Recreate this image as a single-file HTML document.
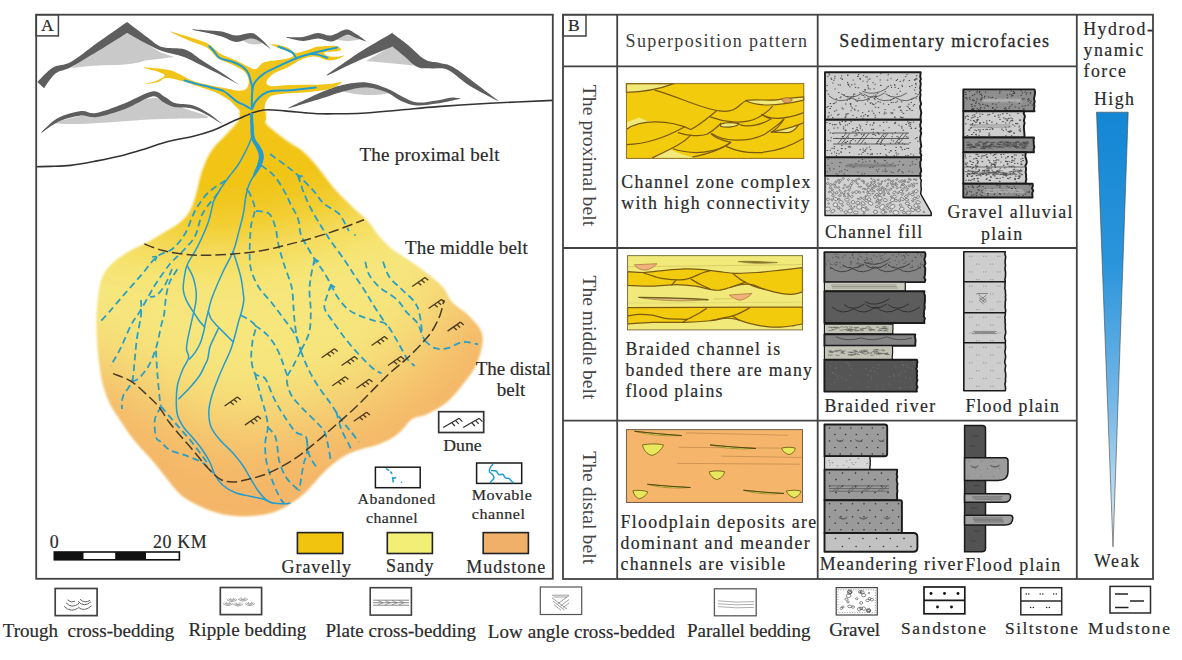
<!DOCTYPE html>
<html lang="en"><head><meta charset="utf-8"><title>Fluvial fan depositional model</title>
<style>html,body{margin:0;padding:0;background:#fff}svg{display:block}text{font-family:"Liberation Serif","Times New Roman",serif;white-space:pre}</style></head><body>
<svg width="1182" height="660" viewBox="0 0 1182 660">
<rect width="1182" height="660" fill="#fff"/>
<clipPath id="clipA"><rect x="36.2" y="14.7" width="516.6" height="564.1"/></clipPath>
<g clip-path="url(#clipA)">
<path d="M71,68L126.8,31L145.4,43L160.3,52.2L174,57Q160,58.5 145.4,60.6Q130.5,65.5 113.8,64.9Q95,65 71,68Z" fill="#c9c9c9"/>
<path d="M37.3,82.0C39.9,79.6 47.4,70.8 53.0,67.5C58.6,64.2 63.5,66.1 70.8,62.0C78.1,57.9 87.9,49.5 97.0,43.0C106.1,36.5 120.6,26.5 125.6,23.0C130.6,19.5 126.6,22.0 127.1,22.0C127.6,22.0 125.5,20.7 128.8,23.2C132.1,25.7 141.5,33.0 147.0,37.0C152.5,41.0 155.7,44.9 162.0,47.0C168.3,49.1 178.2,47.2 185.0,49.5C191.8,51.8 196.8,57.1 203.0,61.0C209.2,64.9 215.9,69.0 222.0,73.0C228.1,77.0 236.6,83.0 239.5,85.0L236.0,83.0C232.5,81.2 221.4,75.2 215.0,72.0C208.6,68.8 203.1,66.1 197.7,63.5C192.3,60.9 188.4,58.6 182.5,56.5C176.6,54.4 167.9,53.1 162.0,51.0C156.1,48.9 152.6,46.9 147.0,44.0C141.4,41.1 131.9,35.7 128.6,33.8C125.3,31.9 127.6,32.8 127.1,32.8C126.6,32.8 130.2,30.9 125.4,33.9C120.6,36.9 107.1,45.4 98.0,51.0C88.9,56.6 77.9,63.5 70.8,67.3C63.7,71.1 60.0,70.1 55.5,73.6C51.0,77.1 46.0,85.8 44.1,88.3Z" fill="#5e5e5e"/>
<path d="M56.0,123.0C56.0,121.7 71.0,117.8 80.0,116.0C89.0,114.2 98.0,115.0 110.0,112.0C122.0,109.0 140.3,98.8 152.0,98.0C163.7,97.2 170.6,103.8 180.0,107.0C189.4,110.2 208.5,115.4 208.5,117.3C208.5,119.2 189.8,118.1 180.0,118.5C170.2,118.9 161.7,118.9 150.0,119.5C138.3,120.1 121.7,121.5 110.0,122.3C98.3,123.0 89.0,123.9 80.0,124.0C71.0,124.1 56.0,124.3 56.0,123.0Z" fill="#c9c9c9"/>
<path d="M41.6,132.0C44.3,129.7 51.4,121.5 58.0,118.0C64.6,114.5 74.7,111.8 81.0,111.0C87.3,110.2 89.0,114.2 96.0,113.0C103.0,111.8 113.7,107.6 123.0,104.0C132.3,100.4 145.0,92.6 152.0,91.4C159.0,90.2 161.2,95.1 165.0,97.0C168.8,98.9 170.4,101.6 175.0,103.0C179.6,104.4 187.1,103.6 192.6,105.3C198.1,107.0 202.9,109.8 208.0,113.0C213.1,116.2 220.5,122.5 223.0,124.4L222.0,124.0C219.5,122.5 212.0,117.6 207.0,115.0C202.0,112.4 197.5,109.8 192.0,108.5C186.5,107.2 178.8,108.1 174.0,107.0C169.2,105.9 166.7,103.8 163.0,102.0C159.3,100.2 158.3,95.3 152.0,96.5C145.7,97.7 134.2,105.6 125.0,109.0C115.8,112.4 104.3,115.9 97.0,117.0C89.7,118.1 87.2,114.8 81.0,115.5C74.8,116.2 66.5,118.2 60.0,121.0C53.5,123.8 45.0,130.6 42.0,132.5Z" fill="#5e5e5e"/>
<path d="M41.6,132.3L58,118.5" stroke="#5e5e5e" stroke-width="1" fill="none"/>
<path d="M240.0,38.0C240.3,36.7 248.3,35.2 252.0,36.0C255.7,36.8 262.3,41.7 262.0,43.0C261.7,44.3 253.7,44.8 250.0,44.0C246.3,43.2 239.7,39.3 240.0,38.0Z" fill="#c9c9c9"/>
<path d="M192.0,29.2C195.0,29.4 204.8,30.1 210.0,30.5C215.2,30.9 218.7,30.9 223.0,31.7C227.3,32.5 231.0,35.3 235.7,35.5C240.4,35.7 246.9,32.6 251.0,33.0C255.1,33.4 256.6,35.2 260.0,38.0C263.4,40.8 269.4,47.6 271.3,49.5L270.0,48.5C268.2,47.2 262.3,42.7 259.0,41.0C255.7,39.3 253.8,38.3 250.0,38.5C246.2,38.7 240.5,42.2 236.0,42.0C231.5,41.8 227.3,38.4 223.0,37.0C218.7,35.6 215.0,34.7 210.0,33.5C205.0,32.3 195.8,30.6 193.0,30.0Z" fill="#5e5e5e"/>
<path d="M333.0,38.0C333.0,37.0 341.5,34.8 346.0,35.0C350.5,35.2 360.0,38.0 360.0,39.0C360.0,40.0 350.5,41.2 346.0,41.0C341.5,40.8 333.0,39.0 333.0,38.0Z" fill="#c9c9c9"/>
<path d="M286.0,37.0C288.8,37.0 297.7,37.7 303.0,37.0C308.3,36.3 313.3,33.2 318.0,33.0C322.7,32.8 326.3,36.1 331.0,35.5C335.7,34.9 341.8,29.8 346.0,29.5C350.2,29.2 352.5,32.0 356.0,34.0C359.5,36.0 365.2,40.3 367.0,41.6L366.0,41.4C364.2,40.8 358.3,38.6 355.0,37.5C351.7,36.4 349.8,34.3 346.0,35.0C342.2,35.7 336.7,40.9 332.0,41.5C327.3,42.1 322.8,38.6 318.0,38.5C313.2,38.4 308.2,41.1 303.0,41.0C297.8,40.9 289.7,38.3 287.0,37.8Z" fill="#5e5e5e"/>
<path d="M366,61L392,46L418,66Q395,63.5 366,61Z" fill="#c9c9c9"/>
<path d="M326.5,75.0C332.1,71.2 349.4,58.9 360.0,52.0C370.6,45.1 385.1,37.1 390.4,33.9C395.7,30.7 391.4,32.8 392.0,32.8C392.6,32.8 391.0,32.2 393.7,34.2C396.4,36.2 402.8,40.8 408.0,45.0C413.2,49.2 419.7,56.6 425.0,59.6C430.3,62.6 435.3,61.8 440.0,63.0C444.7,64.2 447.2,63.7 453.0,67.0C458.8,70.3 467.4,77.3 475.0,83.0C482.6,88.7 494.7,98.0 498.6,101.0L497.0,100.5C492.5,98.1 478.2,91.1 470.0,86.0C461.8,80.9 454.3,72.9 448.0,70.0C441.7,67.1 437.1,69.0 432.0,68.5C426.9,68.0 422.1,69.1 417.4,67.0C412.7,64.9 408.0,59.2 404.0,56.0C400.0,52.8 395.6,49.2 393.6,47.6C391.6,46.0 392.6,46.4 392.0,46.4C391.4,46.4 395.6,45.1 390.3,47.4C385.0,49.7 370.5,55.3 360.0,60.0C349.5,64.7 332.9,72.9 327.5,75.5Z" fill="#5e5e5e"/>
<path d="M343.0,91.0C343.0,89.8 358.5,87.2 366.0,87.5C373.5,87.8 388.0,91.8 388.0,93.0C388.0,94.2 373.5,95.3 366.0,95.0C358.5,94.7 343.0,92.2 343.0,91.0Z" fill="#c9c9c9"/>
<path d="M288.0,108.0C293.8,105.2 313.5,95.4 323.0,91.5C332.5,87.6 337.7,86.0 345.0,84.5C352.3,83.0 359.6,81.8 366.6,82.5C373.6,83.2 380.9,86.1 387.0,88.5C393.1,90.9 397.9,94.7 403.0,97.0C408.1,99.3 411.7,101.9 417.4,102.5C423.1,103.1 431.2,101.3 437.0,100.5C442.8,99.7 448.1,97.8 452.0,97.5C455.9,97.2 459.1,98.3 460.5,98.5L460.0,99.0C458.3,99.3 453.8,100.2 450.0,101.0C446.2,101.8 442.5,102.8 437.0,103.5C431.5,104.2 423.0,105.9 417.0,105.5C411.0,105.1 406.0,103.2 401.0,101.0C396.0,98.8 392.7,94.8 387.0,92.6C381.3,90.4 373.6,87.9 366.6,87.6C359.6,87.3 352.3,89.3 345.0,91.0C337.7,92.7 332.3,95.1 323.0,98.0C313.7,100.9 294.7,106.6 289.0,108.3Z" fill="#5e5e5e"/>
<path d="M242.1,121.2C238.2,119.6 241.1,113.6 239.8,110.9C238.5,108.3 235.9,106.7 234.1,104.9C232.4,103.1 231.7,101.9 228.8,99.9C226.0,98.0 221.2,95.0 216.4,92.8C211.5,90.7 204.0,88.5 198.6,86.6C193.2,84.8 187.7,82.6 182.6,81.3C177.5,79.9 170.6,77.9 166.6,78.1C162.7,78.2 161.3,81.2 157.8,82.2C154.2,83.1 144.7,84.1 144.4,83.9C144.2,83.7 152.9,82.1 156.0,80.9C159.1,79.7 162.8,77.6 164.0,76.5C165.1,75.3 164.7,74.8 163.1,73.8C161.5,72.9 157.3,71.6 154.2,70.6C151.1,69.6 143.0,67.9 143.6,67.6C144.1,67.3 153.5,68.1 157.8,68.5C162.0,68.9 166.5,69.3 170.2,70.3C173.9,71.3 177.2,73.0 180.9,74.7C184.5,76.4 187.9,79.1 193.3,80.9C198.7,82.8 208.9,85.0 214.6,86.3C220.3,87.5 224.8,88.2 228.8,88.9C232.8,89.6 236.6,90.8 239.5,90.7C242.3,90.6 245.1,90.0 246.6,88.4C248.0,86.7 249.0,83.0 248.7,80.4C248.4,77.7 247.4,74.4 244.8,71.9C242.2,69.4 236.6,66.9 232.4,64.8C228.1,62.6 222.1,61.2 218.2,58.5C214.2,55.8 211.5,50.5 207.5,47.9C203.5,45.3 197.5,44.0 193.3,42.2C189.0,40.4 184.5,38.6 180.9,36.9C177.2,35.2 169.6,31.7 170.2,31.5C170.8,31.3 179.9,34.3 184.4,35.6C189.0,37.0 194.6,38.7 198.6,40.1C202.6,41.5 205.9,42.4 209.3,44.5C212.7,46.6 216.0,51.0 219.9,53.4C223.9,55.8 229.9,57.6 234.1,59.6C238.4,61.6 243.2,64.3 246.6,65.8C250.0,67.4 252.9,69.7 255.5,69.2C258.0,68.7 260.6,64.2 262.6,63.0C264.5,61.7 264.8,61.9 267.9,61.4C271.0,60.8 278.3,60.3 282.1,59.6C285.9,58.9 290.1,57.8 291.9,56.9C293.6,56.1 293.7,55.1 293.1,54.3C292.5,53.4 290.6,52.6 288.3,51.6C286.0,50.6 281.4,49.3 278.5,48.1C275.7,46.8 270.3,44.4 270.6,44.0C270.8,43.6 277.3,44.7 280.3,45.4C283.3,46.1 286.6,47.2 289.2,48.4C291.8,49.6 292.9,52.8 296.3,52.9C299.7,52.9 307.1,49.9 310.5,49.0C313.9,48.0 314.8,47.1 317.6,46.6C320.5,46.2 325.2,46.0 328.3,45.9C331.4,45.9 335.1,45.7 337.2,46.3C339.2,46.8 341.1,48.5 341.1,49.3C341.1,50.1 339.8,50.8 337.2,51.3C334.5,51.7 326.4,51.6 324.7,52.3C323.0,53.0 324.8,54.8 326.5,55.5C328.2,56.2 332.5,56.8 335.4,56.8C338.3,56.8 344.6,55.0 344.6,55.5C344.6,56.0 338.3,59.0 335.4,59.8C332.5,60.5 329.2,60.6 326.5,60.1C323.8,59.7 321.1,57.5 318.5,56.9C316.0,56.4 313.5,56.2 310.5,56.8C307.5,57.3 303.6,58.6 299.9,60.3C296.2,62.0 291.4,65.4 287.4,67.4C283.4,69.4 278.1,71.0 275.0,72.8C271.9,74.5 269.6,76.9 268.2,78.6C266.9,80.3 266.0,82.4 266.5,83.6C267.0,84.8 268.9,85.9 271.4,86.3C273.9,86.6 277.5,85.8 282.1,85.5C286.6,85.3 294.2,84.8 299.9,84.7C305.5,84.5 312.5,84.8 317.6,84.7C322.7,84.5 327.9,84.2 331.8,83.8C335.7,83.4 342.0,81.5 342.0,82.2C342.0,82.9 335.7,86.8 331.8,88.2C327.9,89.6 322.7,90.3 317.6,91.0C312.5,91.8 305.5,92.4 299.9,92.8C294.2,93.3 286.6,93.4 282.1,93.9C277.5,94.4 273.9,94.7 271.4,95.8C268.9,97.0 267.5,99.0 266.5,100.8C265.4,102.6 264.9,105.0 264.7,107.0C264.4,109.0 264.9,111.0 264.9,113.3C264.8,115.5 268.0,120.0 264.3,121.2C260.7,122.5 246.1,122.9 242.1,121.2Z" fill="#f1c419"/>
<path d="M251.9,114.1C251.9,111.5 251.8,102.6 251.9,98.2C252.0,93.7 252.4,90.2 252.3,87.5C252.1,84.8 251.2,83.1 251.0,82.2" stroke="#1f9dd3" stroke-width="2.1" fill="none" stroke-linecap="round"/>
<path d="M251.0,82.2C250.6,80.7 249.7,75.8 248.3,73.3C247.0,70.8 245.7,69.0 243.0,67.1C240.4,65.1 236.2,63.2 232.4,61.7C228.5,60.3 222.9,59.8 219.9,58.2C217.0,56.6 216.4,54.0 214.6,52.0C212.8,50.0 210.2,47.2 209.3,46.3" stroke="#1f9dd3" stroke-width="2.0" fill="none" stroke-linecap="round"/>
<path d="M252.3,89.3C252.8,87.9 253.4,83.9 255.5,81.3C257.5,78.6 260.5,75.8 264.3,73.3C268.2,70.8 273.2,68.7 278.5,66.2C283.9,63.7 291.0,60.3 296.3,58.2C301.6,56.1 305.8,55.1 310.5,53.7C315.3,52.4 320.3,51.2 324.7,50.2C329.2,49.2 335.1,48.0 337.2,47.5" stroke="#1f9dd3" stroke-width="2.0" fill="none" stroke-linecap="round"/>
<path d="M296.3,58.2C295.7,57.3 294.5,54.3 292.8,52.9C291.0,51.4 288.0,50.3 285.6,49.3C283.3,48.3 279.7,47.1 278.5,46.6" stroke="#1f9dd3" stroke-width="2.0" fill="none" stroke-linecap="round"/>
<path d="M310.5,53.7C311.7,53.9 314.8,54.0 317.6,54.6C320.4,55.3 325.8,57.3 327.4,57.8" stroke="#1f9dd3" stroke-width="2.0" fill="none" stroke-linecap="round"/>
<path d="M251.9,109.7C250.7,109.0 247.5,106.7 244.8,105.3C242.1,103.8 239.5,103.2 235.9,100.8C232.4,98.4 227.6,93.3 223.5,91.0C219.3,88.8 215.5,88.7 211.0,87.5C206.6,86.3 201.3,85.1 196.8,83.9C192.4,82.8 186.5,81.0 184.4,80.4" stroke="#1f9dd3" stroke-width="2.0" fill="none" stroke-linecap="round"/>
<path d="M252.3,108.8C252.8,107.6 253.7,104.1 255.5,101.7C257.2,99.3 259.9,96.4 262.6,94.6C265.2,92.8 266.7,91.8 271.4,91.0C276.2,90.3 283.6,90.8 291.0,90.2C298.4,89.6 311.7,87.9 315.8,87.5" stroke="#1f9dd3" stroke-width="2.0" fill="none" stroke-linecap="round"/>
<defs><filter id="blurZ" x="-30%" y="-30%" width="160%" height="160%"><feGaussianBlur stdDeviation="30"/></filter><filter id="blurZ2" x="-30%" y="-30%" width="160%" height="160%"><feGaussianBlur stdDeviation="36"/></filter><filter id="blurE" x="-5%" y="-5%" width="110%" height="110%"><feGaussianBlur stdDeviation="0.9"/></filter><clipPath id="fanclip"><path d="M241.5,111.0C237.4,112.2 240.9,115.8 240.0,118.0C239.1,120.2 237.6,122.0 236.0,124.0C234.4,126.0 232.5,128.0 230.3,130.3C228.1,132.6 225.5,135.5 223.0,138.0C220.5,140.5 217.8,142.8 215.5,145.5C213.2,148.2 211.2,151.0 209.5,154.0C207.8,157.0 206.5,159.9 205.0,163.6C203.5,167.3 201.9,171.1 200.5,176.0C199.1,180.9 198.2,187.3 196.4,193.1C194.7,198.9 193.0,205.9 190.0,211.0C187.0,216.1 183.3,219.8 178.6,223.6C173.9,227.4 167.3,230.6 162.0,233.8C156.7,237.0 152.5,239.7 147.0,242.6C141.5,245.5 134.5,248.3 129.0,251.5C123.5,254.7 118.0,258.3 114.0,261.7C110.0,265.1 107.3,268.0 105.0,271.8C102.7,275.6 101.3,279.4 100.0,284.5C98.7,289.6 98.0,296.4 97.4,302.3C96.8,308.2 96.6,313.7 96.5,320.0C96.4,326.3 96.6,333.0 97.0,340.0C97.4,347.0 98.0,354.5 99.0,362.0C100.0,369.5 101.2,378.0 103.0,385.0C104.8,392.0 107.2,398.2 110.0,404.0C112.8,409.8 116.0,414.0 120.0,420.0C124.0,426.0 128.2,432.8 134.0,440.0C139.8,447.2 147.3,454.5 154.5,463.0C161.7,471.5 171.1,484.7 177.0,491.0C182.9,497.3 185.3,498.1 190.0,501.0C194.7,503.9 200.0,506.4 205.0,508.5C210.0,510.6 214.9,512.2 220.0,513.5C225.1,514.8 230.4,515.6 235.7,516.0C241.0,516.4 246.5,516.4 252.0,516.0C257.5,515.6 263.2,515.1 268.7,513.6C274.2,512.1 279.3,510.2 285.0,507.0C290.7,503.8 297.0,499.9 303.0,494.6C309.0,489.4 315.8,480.6 320.8,475.5C325.8,470.4 328.8,467.4 333.0,464.0C337.2,460.6 341.5,457.4 346.0,455.0C350.5,452.6 354.9,451.2 360.0,449.5C365.1,447.8 371.3,446.9 376.6,445.0C381.9,443.1 387.6,440.5 391.8,438.0C396.0,435.5 398.6,433.2 402.0,430.0C405.4,426.8 407.8,421.7 412.0,419.0C416.2,416.3 421.4,416.9 427.4,414.0C433.3,411.1 441.4,407.0 447.7,401.5C454.0,396.0 460.8,386.9 465.4,381.0C470.0,375.1 472.8,371.9 475.6,366.0C478.4,360.1 481.1,351.6 482.0,345.7C482.9,339.8 483.0,335.6 480.7,330.5C478.4,325.4 472.8,319.8 468.0,315.0C463.2,310.2 456.2,306.7 452.0,302.0C447.8,297.3 447.2,292.0 442.7,287.0C438.2,282.0 430.9,276.4 425.0,271.8C419.1,267.2 412.7,262.9 407.2,259.1C401.7,255.3 396.6,252.8 392.0,249.0C387.4,245.2 383.5,241.2 379.3,236.3C375.1,231.4 370.8,224.5 366.6,219.8C362.4,215.2 359.1,213.3 354.0,208.4C348.9,203.5 342.4,197.8 336.0,190.6C329.6,183.4 321.3,171.5 315.8,165.0C310.3,158.5 306.6,154.8 303.0,151.5C299.4,148.2 297.0,147.5 294.0,145.5C291.0,143.5 287.6,141.4 284.8,139.4C282.0,137.4 279.3,135.3 277.0,133.5C274.7,131.7 272.9,130.2 271.2,128.8C269.5,127.4 268.1,126.5 267.0,125.0C265.9,123.5 265.2,122.3 264.8,120.0C264.4,117.7 268.3,112.5 264.4,111.0C260.5,109.5 245.6,109.8 241.5,111.0Z"/></clipPath></defs>
<g filter="url(#blurE)"><g clip-path="url(#fanclip)">
<rect x="60" y="90" width="460" height="450" fill="#f6e67c"/>
<path d="M-60.0,190.0C-40.0,194.2 25.9,208.3 60.0,215.0C94.1,221.7 127.4,226.5 144.4,230.0C161.4,233.5 155.7,234.3 162.0,236.0C168.3,237.7 175.6,239.1 182.4,240.0C189.2,240.9 194.2,241.3 202.7,241.3C211.2,241.3 223.0,240.8 233.2,240.0C243.4,239.2 255.0,237.8 263.7,236.3C272.4,234.8 278.4,232.7 285.4,231.0C292.4,229.3 297.7,228.3 305.7,226.0C313.7,223.7 323.9,220.4 333.6,217.0C343.3,213.6 349.6,212.0 364.0,205.8C378.4,199.6 387.3,196.0 420.0,180.0C452.7,164.0 536.7,121.7 560.0,110.0L560,-100L-60,-100Z" fill="#f1c419" filter="url(#blurZ)"/>
<path d="M-80.0,325.0C-63.3,329.2 -8.3,343.5 20.0,350.0C48.3,356.5 74.5,360.3 90.0,364.0C105.5,367.7 104.7,368.2 113.0,372.0C121.3,375.8 130.5,381.5 140.0,387.0C149.5,392.5 160.0,399.2 170.0,405.0C180.0,410.8 189.0,417.5 200.0,422.0C211.0,426.5 224.3,431.0 236.0,432.0C247.7,433.0 259.3,430.0 270.0,428.0C280.7,426.0 290.0,423.0 300.0,420.0C310.0,417.0 319.7,413.7 330.0,410.0C340.3,406.3 351.7,402.8 362.0,398.0C372.3,393.2 383.3,387.0 392.0,381.0C400.7,375.0 407.5,367.7 414.0,362.0C420.5,356.3 426.2,352.0 431.0,347.0C435.8,342.0 439.5,337.2 443.0,332.0C446.5,326.8 449.5,321.7 452.0,316.0C454.5,310.3 455.3,305.3 458.0,298.0C460.7,290.7 461.8,282.5 468.0,272.0C474.2,261.5 479.7,253.7 495.0,235.0C510.3,216.3 549.2,172.5 560.0,160.0L700,160L700,760L-80,760Z" fill="#f4b568" filter="url(#blurZ2)"/>
</g></g>
<path d="M36.0,166.7C38.3,166.6 44.2,166.6 50.0,166.4C55.8,166.2 62.8,166.3 70.6,165.4C78.4,164.5 88.5,162.5 97.0,160.9C105.5,159.3 113.3,157.8 121.4,155.8C129.5,153.8 137.9,151.1 145.7,148.7C153.5,146.3 160.2,143.6 168.0,141.6C175.8,139.6 185.0,138.3 192.4,136.5C199.8,134.7 205.9,133.0 212.7,130.5C219.5,128.0 226.9,124.0 233.0,121.3C239.1,118.6 245.1,115.9 249.3,114.2C253.5,112.5 254.8,111.9 258.0,111.2C261.1,110.5 263.7,109.8 268.2,109.8C272.7,109.8 278.5,110.4 284.8,110.9C291.1,111.4 300.1,112.4 306.0,112.9C311.9,113.4 315.2,113.7 320.0,113.8C324.8,113.9 328.1,113.9 335.0,113.8C341.9,113.7 350.7,113.8 361.5,113.2C372.3,112.6 387.3,111.1 400.0,110.0C412.7,108.9 422.7,107.7 437.7,106.6C452.7,105.5 470.7,104.3 490.0,103.3C509.3,102.2 543.1,100.8 553.7,100.3" stroke="#333" stroke-width="1.6" fill="none"/>
<path d="M225.6,180.5C222.6,182.6 212.9,187.9 207.8,193.0C202.7,198.1 198.8,204.2 195.0,211.0C191.2,217.8 188.8,227.5 185.0,233.8C181.2,240.1 177.0,245.2 172.3,249.0C167.6,252.8 162.1,252.4 157.0,256.6C151.9,260.8 147.3,268.0 141.8,274.4C136.3,280.8 129.5,288.4 124.0,294.7C118.5,301.0 112.8,307.8 108.8,312.4C104.8,316.9 101.5,320.4 100.0,322.0" stroke="#2a9fc6" stroke-width="1.8" fill="none" stroke-dasharray="6.8 4"/>
<path d="M218.0,193.0C215.4,196.4 206.5,206.3 202.7,213.5C198.9,220.7 198.4,230.0 195.0,236.3C191.6,242.6 186.6,246.8 182.4,251.5C178.2,256.1 173.9,259.1 169.7,264.2C165.5,269.3 160.4,276.9 157.0,282.0C153.6,287.1 152.3,289.6 149.4,294.7C146.5,299.8 142.4,307.3 139.3,312.4C136.2,317.5 133.9,319.4 130.8,325.4C127.7,331.4 124.0,341.4 120.6,348.2C117.2,355.0 112.2,363.0 110.5,366.0" stroke="#2a9fc6" stroke-width="1.8" fill="none" stroke-dasharray="6.8 4"/>
<path d="M172.0,269.0C170.8,271.7 167.5,280.7 165.0,285.0C162.5,289.3 159.5,293.0 157.0,295.0C154.5,297.0 151.2,296.7 150.0,297.0" stroke="#2a9fc6" stroke-width="1.8" fill="none" stroke-dasharray="6.8 4"/>
<path d="M177.4,269.3C176.1,271.4 171.6,277.4 169.7,282.0C167.8,286.6 166.9,291.5 166.0,297.0C165.1,302.5 164.8,310.3 164.0,315.0C163.2,319.7 162.5,319.9 161.2,325.4C159.9,330.9 158.1,341.4 156.0,348.2C153.9,355.0 151.4,360.9 148.5,366.0C145.6,371.1 141.2,376.2 138.4,378.7C135.7,381.2 133.1,380.8 132.0,381.2" stroke="#2a9fc6" stroke-width="1.8" fill="none" stroke-dasharray="6.8 4"/>
<path d="M141.0,300.0C141.0,302.5 141.7,308.9 141.0,315.2C140.3,321.5 138.1,330.4 137.0,338.0C135.9,345.6 135.4,353.8 134.6,361.0C133.8,368.2 133.9,375.3 132.0,381.2C130.1,387.1 124.7,391.8 123.0,396.4C121.3,401.0 122.1,406.9 121.9,409.0" stroke="#2a9fc6" stroke-width="1.8" fill="none" stroke-dasharray="6.8 4"/>
<path d="M156.0,350.8C156.2,354.6 156.7,365.2 157.4,373.6C158.1,382.1 159.4,396.0 160.0,401.5C160.6,407.0 161.0,405.8 161.2,406.6" stroke="#2a9fc6" stroke-width="1.8" fill="none" stroke-dasharray="6.8 4"/>
<path d="M161.2,406.6C160.1,408.7 155.8,414.2 154.9,419.3C154.0,424.4 155.0,433.2 156.0,437.0C157.0,440.8 158.6,439.8 160.9,442.0C163.2,444.2 165.7,447.8 169.7,450.0C173.7,452.2 179.5,453.1 185.0,455.2C190.5,457.3 198.0,459.8 202.7,462.8C207.3,465.8 211.2,471.3 212.9,473.0" stroke="#2a9fc6" stroke-width="1.8" fill="none" stroke-dasharray="6.8 4"/>
<path d="M161.2,406.6C163.7,409.6 171.3,418.5 176.4,424.4C181.5,430.3 186.6,435.7 191.7,442.0C196.8,448.3 204.4,459.0 207.0,462.4" stroke="#2a9fc6" stroke-width="1.8" fill="none" stroke-dasharray="6.8 4"/>
<path d="M248.4,190.6C249.5,193.6 254.4,202.5 254.8,208.4C255.2,214.3 251.8,218.8 251.0,226.0C250.2,233.2 249.7,244.3 249.7,251.5C249.7,258.7 249.5,263.4 251.0,269.3C252.5,275.2 255.2,281.5 258.6,287.0C262.0,292.5 267.2,297.2 271.3,302.3C275.4,307.4 278.9,312.3 283.0,317.8C287.1,323.3 292.7,330.0 295.7,335.5C298.7,341.0 299.9,348.2 300.8,350.8" stroke="#2a9fc6" stroke-width="1.8" fill="none" stroke-dasharray="6.8 4"/>
<path d="M256.0,211.0C258.1,211.4 265.5,211.0 268.7,213.5C271.9,216.0 273.3,220.5 275.0,226.0C276.7,231.5 277.4,240.0 278.9,246.4C280.4,252.8 281.9,257.4 284.0,264.2C286.1,271.0 290.0,279.8 291.6,287.0C293.2,294.2 293.0,301.8 293.5,307.4C294.0,312.9 293.9,315.2 294.5,320.3C295.1,325.4 295.9,332.9 297.0,338.0C298.1,343.1 300.2,348.7 300.8,350.8" stroke="#2a9fc6" stroke-width="1.8" fill="none" stroke-dasharray="6.8 4"/>
<path d="M261.0,165.2C263.1,166.9 270.0,171.2 273.8,175.4C277.6,179.6 281.1,185.7 284.0,190.6C286.9,195.5 288.7,200.3 291.0,205.0C293.3,209.7 296.4,213.7 298.0,218.5C299.6,223.3 299.3,229.6 300.6,233.8C301.9,238.1 303.4,239.8 305.7,244.0C308.0,248.2 311.6,254.4 314.6,259.0C317.6,263.6 320.8,267.6 323.5,271.8C326.2,276.1 328.8,280.5 331.0,284.5C333.2,288.5 334.1,291.9 336.7,295.8C339.3,299.7 342.8,304.7 346.4,307.9C350.0,311.1 353.6,313.0 358.5,315.2C363.4,317.4 370.9,319.7 375.5,321.2C380.1,322.7 382.4,320.8 386.0,324.0C389.6,327.2 393.5,334.9 397.0,340.6C400.5,346.3 404.1,354.2 407.0,358.4C409.9,362.6 413.4,364.7 414.7,366.0" stroke="#2a9fc6" stroke-width="1.8" fill="none" stroke-dasharray="6.8 4"/>
<path d="M270.0,154.0C272.6,155.9 280.7,161.6 285.4,165.2C290.1,168.8 293.4,171.2 298.0,175.4C302.6,179.6 309.1,185.9 313.3,190.6C317.6,195.2 319.3,199.5 323.5,203.3C327.7,207.1 334.9,209.7 338.7,213.5C342.5,217.3 344.6,223.1 346.3,226.0C348.0,228.9 348.4,230.3 348.8,231.2" stroke="#2a9fc6" stroke-width="1.8" fill="none" stroke-dasharray="6.8 4"/>
<path d="M298.0,175.4C298.8,177.9 300.9,185.1 303.0,190.6C305.1,196.1 307.8,202.5 310.8,208.4C313.8,214.3 317.6,220.5 321.0,226.0C324.4,231.5 327.2,235.9 331.0,241.4C334.8,246.9 340.0,253.5 343.8,259.0C347.6,264.5 350.5,269.3 353.9,274.4C357.3,279.5 361.0,285.0 364.0,289.6C367.0,294.2 368.8,297.6 371.7,302.3C374.6,307.0 379.2,314.0 381.7,317.8C384.2,321.6 385.9,324.1 386.8,325.4" stroke="#2a9fc6" stroke-width="1.8" fill="none" stroke-dasharray="6.8 4"/>
<path d="M314.6,259.0C314.0,262.0 311.7,271.5 310.8,277.0C309.9,282.5 309.5,286.1 309.5,292.0C309.5,297.9 310.9,305.6 310.8,312.4C310.7,319.2 310.7,326.6 309.0,333.0C307.3,339.4 302.2,347.8 300.8,350.8" stroke="#2a9fc6" stroke-width="1.8" fill="none" stroke-dasharray="6.8 4"/>
<path d="M331.0,284.5C330.3,286.4 328.1,292.1 327.0,296.0C325.9,299.9 323.7,304.0 324.5,308.0C325.3,312.0 328.6,315.2 331.8,320.0C335.1,324.8 339.6,331.3 344.0,337.0C348.4,342.7 353.7,348.8 358.5,354.0C363.3,359.2 369.2,365.3 373.0,368.5C376.8,371.7 380.1,372.5 381.5,373.3" stroke="#2a9fc6" stroke-width="1.8" fill="none" stroke-dasharray="6.8 4"/>
<path d="M365.3,261.7C365.9,263.8 366.7,270.2 369.0,274.4C371.3,278.6 374.6,282.8 379.3,287.0C384.0,291.2 392.4,295.4 397.0,299.7C401.6,304.0 403.6,308.8 407.0,312.7C410.4,316.6 414.6,319.0 417.2,322.8C419.8,326.6 421.0,332.5 422.3,335.5C423.6,338.5 424.4,339.8 424.8,340.6" stroke="#2a9fc6" stroke-width="1.8" fill="none" stroke-dasharray="6.8 4"/>
<path d="M383.0,261.7C384.1,264.2 386.2,272.4 389.4,277.0C392.6,281.6 397.8,285.4 402.0,289.6C406.2,293.8 411.8,298.0 414.8,302.3C417.8,306.6 418.6,309.7 419.8,315.2C421.1,320.7 421.9,332.1 422.3,335.5" stroke="#2a9fc6" stroke-width="1.8" fill="none" stroke-dasharray="6.8 4"/>
<path d="M424.8,340.6C426.5,341.9 431.2,346.9 435.0,348.2C438.8,349.5 443.0,349.2 447.7,348.2C452.4,347.1 457.9,342.5 463.0,341.9C468.1,341.3 475.5,344.0 478.0,344.4" stroke="#2a9fc6" stroke-width="1.8" fill="none" stroke-dasharray="6.8 4"/>
<path d="M300.8,350.8C302.0,353.8 305.1,362.6 308.0,368.5C310.9,374.4 314.4,380.4 318.2,386.3C322.0,392.2 327.2,398.5 331.0,404.0C334.8,409.5 337.6,414.6 341.0,419.3C344.4,424.0 348.2,428.2 351.2,432.0C354.2,435.8 357.5,440.3 358.8,442.0" stroke="#2a9fc6" stroke-width="1.8" fill="none" stroke-dasharray="6.8 4"/>
<path d="M300.8,350.8C299.5,353.3 295.5,361.4 293.2,366.0C290.9,370.6 287.3,374.0 286.9,378.7C286.5,383.4 288.4,389.4 290.7,394.0C293.0,398.6 296.6,402.0 300.8,406.6C305.0,411.2 312.0,417.6 316.0,421.8C320.0,426.0 322.5,427.8 324.6,432.0C326.7,436.2 327.3,442.1 328.4,447.2C329.5,452.3 330.6,459.9 331.0,462.4" stroke="#2a9fc6" stroke-width="1.8" fill="none" stroke-dasharray="6.8 4"/>
<path d="M336.3,411.7C337.1,414.6 339.3,423.9 341.4,429.4C343.5,434.9 347.2,440.9 349.0,444.7C350.8,448.5 351.5,450.8 352.0,452.0" stroke="#2a9fc6" stroke-width="1.8" fill="none" stroke-dasharray="6.8 4"/>
<path d="M241.0,315.2C243.3,316.9 253.1,321.2 255.0,325.4C256.9,329.6 253.2,335.1 252.6,340.6C252.0,346.1 250.9,352.9 251.3,358.4C251.7,363.9 252.7,370.2 255.0,373.6C257.3,377.0 262.3,374.9 265.3,378.7C268.3,382.5 270.1,390.5 273.0,396.4C275.9,402.3 279.2,408.3 283.0,414.2C286.8,420.1 291.9,428.2 295.7,432.0C299.5,435.8 304.1,433.6 306.0,437.0C307.9,440.4 307.4,447.6 307.0,452.3C306.6,457.0 304.7,458.6 303.4,465.0C302.1,471.4 299.9,486.5 299.2,490.8" stroke="#2a9fc6" stroke-width="1.8" fill="none" stroke-dasharray="6.8 4"/>
<path d="M255.0,325.4C257.1,327.1 264.0,331.3 267.8,335.5C271.6,339.7 275.0,344.9 278.0,350.8C281.0,356.7 283.9,366.4 285.6,371.0C287.3,375.6 287.6,377.4 288.0,378.7" stroke="#2a9fc6" stroke-width="1.8" fill="none" stroke-dasharray="6.8 4"/>
<path d="M255.0,373.6C255.9,377.0 258.5,387.6 260.2,394.0C261.9,400.4 264.0,406.2 265.3,411.7C266.6,417.2 267.8,421.9 267.8,427.0C267.8,432.1 265.6,436.4 265.3,442.0C265.0,447.6 265.2,454.3 266.2,460.3C267.2,466.3 269.2,472.1 271.3,478.0C273.4,483.9 276.8,491.6 278.9,495.8C281.0,500.1 283.1,502.2 284.0,503.5" stroke="#2a9fc6" stroke-width="1.8" fill="none" stroke-dasharray="6.8 4"/>
<path d="M267.8,427.0C269.1,428.7 273.7,432.8 275.4,437.0C277.1,441.2 277.3,448.1 278.0,452.3C278.7,456.5 278.1,457.7 279.5,462.0C280.9,466.3 283.2,473.2 286.5,478.0C289.8,482.8 297.1,488.7 299.2,490.8" stroke="#2a9fc6" stroke-width="1.8" fill="none" stroke-dasharray="6.8 4"/>
<path d="M306.8,440.0C307.2,442.5 307.7,450.5 309.4,455.2C311.1,459.9 315.7,465.9 317.0,468.0" stroke="#2a9fc6" stroke-width="1.8" fill="none" stroke-dasharray="6.8 4"/>
<path d="M157.0,256.6L154.9,261.1" stroke="#2a9fc6" stroke-width="1.5" fill="none"/>
<path d="M157.0,256.6L152.0,257.0" stroke="#2a9fc6" stroke-width="1.5" fill="none"/>
<path d="M298.0,175.4L302.9,176.3" stroke="#2a9fc6" stroke-width="1.5" fill="none"/>
<path d="M298.0,175.4L299.7,180.1" stroke="#2a9fc6" stroke-width="1.5" fill="none"/>
<path d="M314.6,259.0L318.9,261.5" stroke="#2a9fc6" stroke-width="1.5" fill="none"/>
<path d="M314.6,259.0L314.6,264.0" stroke="#2a9fc6" stroke-width="1.5" fill="none"/>
<path d="M331.0,284.5L335.1,287.4" stroke="#2a9fc6" stroke-width="1.5" fill="none"/>
<path d="M331.0,284.5L330.6,289.5" stroke="#2a9fc6" stroke-width="1.5" fill="none"/>
<circle cx="355" cy="235" r="0.9" fill="#2a9fc6"/>
<path d="M250.0,113.1C250.1,115.1 250.1,120.9 250.3,125.1C250.5,129.3 250.3,134.8 251.2,138.5C252.1,142.1 254.5,144.6 255.6,147.0C256.8,149.4 257.7,150.9 258.2,152.7C258.7,154.5 259.0,155.7 258.8,157.7C258.6,159.8 257.7,162.8 257.0,165.2C256.2,167.5 254.8,169.8 254.1,171.8C253.3,173.8 252.7,176.3 252.4,177.2L253.6,177.8C254.2,177.1 255.7,175.1 256.9,173.2C258.2,171.4 259.9,169.3 261.0,166.8C262.2,164.3 263.5,160.9 263.8,158.3C264.1,155.7 263.5,153.5 262.8,151.3C262.0,149.1 260.7,147.3 259.4,145.0C258.0,142.7 255.8,140.9 254.8,137.5C253.9,134.2 254.0,129.0 253.7,124.9C253.4,120.8 253.1,114.9 253.0,112.9Z" fill="#249ccf"/>
<path d="M252.0,136.0C251.6,137.2 250.6,140.4 249.5,143.0C248.4,145.6 247.4,147.8 245.5,151.5C243.6,155.2 240.8,160.8 238.0,165.0C235.2,169.2 231.6,173.2 228.8,177.0C226.0,180.8 223.3,184.4 221.0,188.0C218.7,191.6 216.3,195.9 215.0,198.5C213.7,201.1 214.2,199.1 213.0,203.3C211.8,207.5 210.4,216.4 207.8,223.6C205.2,230.8 201.1,239.6 197.7,246.4C194.3,253.2 189.7,259.3 187.5,264.2C185.3,269.1 185.2,271.7 184.5,276.0C183.8,280.3 183.0,285.9 183.3,290.0C183.6,294.1 184.9,297.1 186.5,300.6C188.1,304.1 190.8,307.9 192.9,311.2C195.0,314.5 197.3,318.1 199.2,320.7C201.1,323.3 203.6,325.9 204.5,327.0" stroke="#249ccf" stroke-width="1.5" fill="none" stroke-linecap="round" stroke-linejoin="round"/>
<path d="M187.5,266.0C188.4,267.8 191.6,273.0 193.0,277.0C194.4,281.0 195.5,286.1 196.0,290.0C196.5,293.9 196.3,297.1 196.0,300.6C195.7,304.1 194.9,307.1 194.0,311.2C193.1,315.3 191.9,320.2 190.8,325.0C189.7,329.8 188.3,335.7 187.6,339.8C186.9,343.9 186.3,346.4 186.5,349.4C186.7,352.4 189.3,354.5 188.6,357.9C187.9,361.3 184.3,365.5 182.5,370.0C180.7,374.5 178.5,380.0 177.5,385.0C176.5,390.0 176.3,395.0 176.3,400.0C176.3,405.0 176.2,410.4 177.5,415.0C178.8,419.6 181.3,423.8 183.8,427.5C186.3,431.2 189.4,433.8 192.5,437.5C195.6,441.2 199.6,445.8 202.5,450.0C205.4,454.2 207.9,458.3 210.0,462.5C212.1,466.7 212.9,471.2 215.0,475.0C217.1,478.8 219.2,482.1 222.5,485.0C225.8,487.9 230.4,490.6 235.0,492.5C239.6,494.4 245.4,495.2 250.0,496.3C254.6,497.4 258.8,497.7 262.5,498.8C266.2,499.9 268.8,502.2 272.5,503.0C276.2,503.8 282.1,503.8 285.0,503.8C287.9,503.8 289.2,503.1 290.0,503.0" stroke="#249ccf" stroke-width="1.5" fill="none" stroke-linecap="round" stroke-linejoin="round"/>
<path d="M253.0,177.0C252.2,178.5 249.8,182.4 248.5,186.0C247.2,189.6 246.3,193.9 245.5,198.5C244.7,203.1 244.6,207.6 243.4,213.5C242.2,219.4 240.0,227.5 238.3,233.8C236.6,240.1 235.8,245.2 233.2,251.5C230.6,257.8 226.0,265.4 223.0,271.8C220.0,278.2 217.0,285.2 215.0,290.0C213.0,294.8 212.1,297.1 211.0,300.6C209.9,304.1 209.2,307.7 208.3,311.2C207.4,314.7 206.4,318.3 205.6,321.8C204.8,325.3 204.4,328.9 203.5,332.4C202.6,335.9 201.7,339.6 200.3,343.0C198.9,346.4 196.8,349.9 195.0,352.6C193.2,355.3 190.6,357.9 189.7,359.0" stroke="#249ccf" stroke-width="1.5" fill="none" stroke-linecap="round" stroke-linejoin="round"/>
<path d="M233.2,251.5C234.5,255.8 239.1,269.8 240.8,277.0C242.5,284.2 242.9,290.8 243.4,294.7C243.9,298.6 244.1,297.9 243.8,300.6C243.5,303.4 242.6,307.7 241.7,311.2C240.8,314.7 239.6,317.9 238.5,321.8C237.4,325.7 236.2,331.1 235.3,334.5C234.4,337.9 234.1,339.2 233.2,342.0C232.3,344.8 231.4,348.1 230.0,351.5C228.6,354.9 227.1,357.8 225.0,362.5C222.9,367.2 219.8,374.2 217.5,380.0C215.2,385.8 212.8,392.1 211.3,397.5C209.9,402.9 208.8,407.5 208.8,412.5C208.8,417.5 209.4,422.9 211.3,427.5C213.2,432.1 216.5,435.8 220.0,440.0C223.5,444.2 228.8,448.3 232.5,452.5C236.2,456.7 239.6,460.8 242.5,465.0C245.4,469.2 247.5,473.3 250.0,477.5C252.5,481.7 255.0,486.4 257.5,490.0C260.0,493.6 262.5,496.6 265.0,498.8C267.5,501.0 271.2,502.3 272.5,503.0" stroke="#249ccf" stroke-width="1.5" fill="none" stroke-linecap="round" stroke-linejoin="round"/>
<path d="M208.3,311.2C208.8,312.4 209.5,316.1 211.0,318.6C212.5,321.1 215.2,323.7 217.3,326.0C219.4,328.3 221.7,330.4 223.6,332.4C225.5,334.3 227.3,336.1 228.9,337.7C230.5,339.3 232.5,341.3 233.2,342.0" stroke="#249ccf" stroke-width="1.5" fill="none" stroke-linecap="round" stroke-linejoin="round"/>
<path d="M218.3,328.7C217.6,330.2 215.4,334.6 214.0,337.7C212.6,340.8 210.9,343.8 209.8,347.3C208.8,350.9 208.5,356.1 207.7,359.0C206.9,361.9 206.3,362.3 205.0,365.0C203.7,367.7 202.5,371.2 200.0,375.0C197.5,378.8 193.5,383.5 190.0,387.5C186.5,391.5 180.7,396.9 178.8,398.8" stroke="#249ccf" stroke-width="1.5" fill="none" stroke-linecap="round" stroke-linejoin="round"/>
<path d="M248.5,192.4l-2.2,-4" stroke="#249ccf" stroke-width="1.3" fill="none"/>
<path d="M144.4,244.0C147.3,245.1 155.7,248.6 162.0,250.3C168.3,252.0 175.6,253.2 182.4,254.0C189.2,254.8 194.2,255.3 202.7,255.3C211.2,255.3 223.0,254.8 233.2,254.0C243.4,253.2 255.0,251.8 263.7,250.3C272.4,248.8 278.4,246.9 285.4,245.2C292.4,243.5 297.7,242.3 305.7,240.0C313.7,237.7 323.9,234.6 333.6,231.2C343.3,227.8 358.9,221.7 364.0,219.8" stroke="#4a3a22" stroke-width="1.5" fill="none" stroke-dasharray="10.5 4"/>
<path d="M113.0,373.6C116.0,374.9 125.3,377.8 130.8,381.2C136.3,384.6 141.3,389.8 146.0,394.0C150.7,398.2 154.9,402.0 158.7,406.6C162.5,411.2 165.0,416.7 168.8,421.8C172.6,426.9 177.1,431.9 181.5,437.0C185.9,442.1 190.6,447.5 195.0,452.7C199.4,457.9 203.6,463.6 207.8,468.0C212.1,472.4 216.3,477.0 220.5,479.3C224.7,481.6 228.5,482.0 233.2,482.0C237.8,482.0 242.5,480.8 248.4,479.3C254.3,477.8 261.3,476.2 268.7,473.0C276.1,469.8 285.4,464.7 292.8,460.0C300.2,455.3 306.2,450.2 313.0,444.7C319.8,439.2 326.7,432.9 333.5,427.0C340.3,421.1 347.5,414.9 353.8,409.0C360.1,403.1 365.6,397.3 371.5,391.4C377.4,385.5 383.4,379.1 389.3,373.6C395.2,368.1 401.5,363.5 407.0,358.4C412.5,353.3 418.1,347.6 422.3,343.0C426.5,338.4 429.4,335.1 432.4,330.5C435.3,325.9 438.1,320.3 440.0,315.2C441.9,310.1 443.3,302.5 444.0,300.0" stroke="#4a3a22" stroke-width="1.5" fill="none" stroke-dasharray="10.5 4"/>
<path d="M412.2,286.5L425.0,277.5M418.0,282.4l3.3,2.8M421.4,280.0l3.3,2.8M425.0,277.5l3.3,2.8" stroke="#4a3a1c" stroke-width="1.3" fill="none"/>
<path d="M428.6,308.5L441.4,299.5M434.4,304.4l3.3,2.8M437.8,302.0l3.3,2.8M441.4,299.5l3.3,2.8" stroke="#4a3a1c" stroke-width="1.3" fill="none"/>
<path d="M447.6,331.1L460.4,322.1M453.4,327.1l3.3,2.8M456.8,324.6l3.3,2.8M460.4,322.1l3.3,2.8" stroke="#4a3a1c" stroke-width="1.3" fill="none"/>
<path d="M371.6,345.5L384.4,336.5M377.4,341.4l3.3,2.8M380.8,339.0l3.3,2.8M384.4,336.5l3.3,2.8" stroke="#4a3a1c" stroke-width="1.3" fill="none"/>
<path d="M321.6,357.8L334.4,348.8M327.4,353.8l3.3,2.8M330.8,351.3l3.3,2.8M334.4,348.8l3.3,2.8" stroke="#4a3a1c" stroke-width="1.3" fill="none"/>
<path d="M341.6,365.5L354.4,356.5M347.4,361.4l3.3,2.8M350.8,359.0l3.3,2.8M354.4,356.5l3.3,2.8" stroke="#4a3a1c" stroke-width="1.3" fill="none"/>
<path d="M388.0,365.5L400.8,356.5M393.8,361.4l3.3,2.8M397.2,359.0l3.3,2.8M400.8,356.5l3.3,2.8" stroke="#4a3a1c" stroke-width="1.3" fill="none"/>
<path d="M332.3,385.7L345.1,376.7M338.1,381.6l3.3,2.8M341.5,379.2l3.3,2.8M345.1,376.7l3.3,2.8" stroke="#4a3a1c" stroke-width="1.3" fill="none"/>
<path d="M356.4,388.3L369.2,379.3M362.2,384.2l3.3,2.8M365.6,381.8l3.3,2.8M369.2,379.3l3.3,2.8" stroke="#4a3a1c" stroke-width="1.3" fill="none"/>
<path d="M353.8,421.3L366.6,412.3M359.6,417.2l3.3,2.8M363.0,414.8l3.3,2.8M366.6,412.3l3.3,2.8" stroke="#4a3a1c" stroke-width="1.3" fill="none"/>
<path d="M224.6,406.0L237.4,397.0M230.4,401.9l3.3,2.8M233.8,399.5l3.3,2.8M237.4,397.0l3.3,2.8" stroke="#4a3a1c" stroke-width="1.3" fill="none"/>
<path d="M244.9,425.1L257.7,416.1M250.7,421.1l3.3,2.8M254.1,418.6l3.3,2.8M257.7,416.1l3.3,2.8" stroke="#4a3a1c" stroke-width="1.3" fill="none"/>
</g>
<rect x="36.2" y="14.7" width="516.6" height="564.1" fill="none" stroke="#424242" stroke-width="1.8" />
<rect x="36.2" y="14.7" width="22.2" height="21.2" fill="none" stroke="#424242" stroke-width="1.5" />
<text x="40.9" y="31.2" font-size="17.5" letter-spacing="0.00" fill="#2a2a2a" stroke="#2a2a2a" stroke-width="0.2" >A</text>
<text x="359.5" y="161.0" font-size="19" letter-spacing="0.24" fill="#2a2a2a" stroke="#2a2a2a" stroke-width="0.2" >The proximal belt</text>
<text x="405.0" y="253.5" font-size="19" letter-spacing="0.18" fill="#2a2a2a" stroke="#2a2a2a" stroke-width="0.2" >The middle belt</text>
<text x="475.8" y="375.3" font-size="19" letter-spacing="-0.05" fill="#2a2a2a" stroke="#2a2a2a" stroke-width="0.2" >The distal</text>
<text x="496.7" y="395.8" font-size="19" letter-spacing="0.04" fill="#2a2a2a" stroke="#2a2a2a" stroke-width="0.2" >belt</text>
<rect x="438.7" y="411.7" width="45.0" height="20.8" fill="#fff" stroke="#333" stroke-width="1.7" />
<path d="M443.2,427.5L459.2,418.3M451.7,422.6l3.2,3.4M455.5,420.4l3.2,3.4M459.2,418.3l3.2,3.4" stroke="#2e2e2e" stroke-width="1.2" fill="none"/>
<path d="M463.2,427.5L479.2,418.3M471.7,422.6l3.2,3.4M475.5,420.4l3.2,3.4M479.2,418.3l3.2,3.4" stroke="#2e2e2e" stroke-width="1.2" fill="none"/>
<text x="443.3" y="451.3" font-size="17.7" letter-spacing="0.02" fill="#2a2a2a" stroke="#2a2a2a" stroke-width="0.2" >Dune</text>
<rect x="375.4" y="467.2" width="44.8" height="20.5" fill="#fff" stroke="#1a1a1a" stroke-width="1.5" />
<path d="M386,468.5C389,471 391,471 392,474" stroke="#2a9fc6" stroke-width="1.6" fill="none" stroke-dasharray="3.5 1.8"/>
<path d="M392.5,477l0.8,5.5M392.8,478.5l3.5,-1" stroke="#2a9fc6" stroke-width="1.6" fill="none"/>
<circle cx="401.5" cy="482.3" r="0.8" fill="#2a9fc6"/>
<text transform="translate(357.6,504.1) scale(1.05,1)" font-size="15" letter-spacing="0.59" fill="#2a2a2a" stroke="#2a2a2a" stroke-width="0.2" >Abandoned</text>
<text transform="translate(366.1,522.6) scale(1.05,1)" font-size="15" letter-spacing="0.42" fill="#2a2a2a" stroke="#2a2a2a" stroke-width="0.2" >channel</text>
<rect x="476.6" y="463.0" width="45.1" height="20.4" fill="#fff" stroke="#1a1a1a" stroke-width="1.5" />
<path d="M493.0,464.0C492.5,464.7 490.6,466.7 490.0,468.0C489.4,469.3 489.1,470.9 489.5,472.0C489.9,473.1 491.8,473.5 492.5,474.5C493.2,475.5 494.2,476.9 494.0,478.0C493.8,479.1 492.2,480.2 491.5,481.0C490.8,481.8 490.2,482.7 490.0,483.0" stroke="#249ccf" stroke-width="1.5" fill="none"/>
<path d="M491.0,470.5C491.8,470.6 494.7,470.3 496.0,471.0C497.3,471.7 497.8,473.9 499.0,474.5C500.2,475.1 501.9,473.9 503.0,474.5C504.1,475.1 504.5,477.3 505.5,478.0C506.5,478.7 507.9,477.9 509.0,478.5C510.1,479.1 511.2,480.8 512.0,481.5C512.8,482.2 513.7,482.8 514.0,483.0" stroke="#249ccf" stroke-width="1.5" fill="none"/>
<text transform="translate(471.8,500.2) scale(1.05,1)" font-size="15.3" letter-spacing="0.49" fill="#2a2a2a" stroke="#2a2a2a" stroke-width="0.2" >Movable</text>
<text transform="translate(471.8,518.5) scale(1.05,1)" font-size="15.3" letter-spacing="0.50" fill="#2a2a2a" stroke="#2a2a2a" stroke-width="0.2" >channel</text>
<rect x="297.4" y="532.6" width="45.4" height="20.9" fill="#f0c40f" stroke="#222" stroke-width="1.6" />
<rect x="387.3" y="532.6" width="45.1" height="20.9" fill="#f2ee76" stroke="#222" stroke-width="1.6" />
<rect x="483.2" y="532.6" width="45.2" height="20.9" fill="#f0b06a" stroke="#222" stroke-width="1.6" />
<text x="281.6" y="572.5" font-size="18" letter-spacing="0.93" fill="#2a2a2a" stroke="#2a2a2a" stroke-width="0.2" >Gravelly</text>
<text x="386.0" y="572.1" font-size="18" letter-spacing="0.62" fill="#2a2a2a" stroke="#2a2a2a" stroke-width="0.2" >Sandy</text>
<text x="466.3" y="572.5" font-size="18" letter-spacing="1.00" fill="#2a2a2a" stroke="#2a2a2a" stroke-width="0.2" >Mudstone</text>
<rect x="54.3" y="552.0" width="125.1" height="7.8" fill="#fff" stroke="#111" stroke-width="1.6" />
<rect x="54.3" y="552" width="29.2" height="7.8" fill="#111"/>
<rect x="115.2" y="552" width="30.8" height="7.8" fill="#111"/>
<text transform="translate(49.8,547.6) scale(0.92,1)" font-size="19.5" letter-spacing="0.00" fill="#2a2a2a" stroke="#2a2a2a" stroke-width="0.2" >0</text>
<text transform="translate(152.9,547.6) scale(0.92,1)" font-size="19.5" letter-spacing="0.67" fill="#2a2a2a" stroke="#2a2a2a" stroke-width="0.2" >20 KM</text>
<rect x="563.0" y="14.7" width="590.0" height="564.3" fill="none" stroke="#424242" stroke-width="1.8" />
<path d="M617.2,14.7L617.2,579.0" stroke="#424242" stroke-width="1.8" fill="none"/>
<path d="M817.7,14.7L817.7,579.0" stroke="#424242" stroke-width="1.8" fill="none"/>
<path d="M1076.8,14.7L1076.8,579.0" stroke="#424242" stroke-width="1.8" fill="none"/>
<path d="M563.2,66.4L1076.8,66.4" stroke="#424242" stroke-width="1.8" fill="none"/>
<path d="M563.2,248.0L1076.8,248.0" stroke="#424242" stroke-width="1.8" fill="none"/>
<path d="M563.2,420.7L1076.8,420.7" stroke="#424242" stroke-width="1.8" fill="none"/>
<rect x="563.0" y="14.7" width="23.0" height="21.3" fill="none" stroke="#424242" stroke-width="1.5" />
<text x="568.0" y="31.2" font-size="17.5" letter-spacing="0.00" fill="#2a2a2a" stroke="#2a2a2a" stroke-width="0.2" >B</text>
<text x="625.6" y="47.0" font-size="18" letter-spacing="1.35" fill="#3a3a3a" stroke="#3a3a3a" stroke-width="0.2" style="stroke-width:0">Superposition pattern</text>
<text x="839.3" y="47.0" font-size="18" letter-spacing="1.38" fill="#2a2a2a" stroke="#2a2a2a" stroke-width="0.2" style="stroke-width:0.3">Sedimentary microfacies</text>
<text x="1083.2" y="34.6" font-size="17.8" letter-spacing="1.58" fill="#2a2a2a" stroke="#2a2a2a" stroke-width="0.2" >Hydrod-</text>
<text x="1083.5" y="55.8" font-size="17.8" letter-spacing="1.52" fill="#2a2a2a" stroke="#2a2a2a" stroke-width="0.2" >ynamic</text>
<text x="1083.5" y="76.6" font-size="17.8" letter-spacing="1.49" fill="#2a2a2a" stroke="#2a2a2a" stroke-width="0.2" >force</text>
<text x="1094.0" y="105.3" font-size="17.8" letter-spacing="1.47" fill="#2a2a2a" stroke="#2a2a2a" stroke-width="0.2" >High</text>
<text x="1094.0" y="567.0" font-size="17.8" letter-spacing="1.74" fill="#2a2a2a" stroke="#2a2a2a" stroke-width="0.2" >Weak</text>
<text transform="translate(583.4,84.8) rotate(90) scale(1.0,1)" font-size="19.7" letter-spacing="0.02" fill="#444">The proximal belt</text>
<text transform="translate(583.4,275.5) rotate(90) scale(1.0,1)" font-size="19.7" letter-spacing="-0.05" fill="#444">The middle belt</text>
<text transform="translate(583.4,451.2) rotate(90) scale(1.0,1)" font-size="19.7" letter-spacing="0.02" fill="#444">The distal belt</text>
<text x="621.2" y="188.0" font-size="17.8" letter-spacing="1.38" fill="#2a2a2a" stroke="#2a2a2a" stroke-width="0.2" >Channel zone complex</text>
<text x="621.2" y="208.5" font-size="17.8" letter-spacing="1.35" fill="#2a2a2a" stroke="#2a2a2a" stroke-width="0.2" >with high connectivity</text>
<text x="625.5" y="355.0" font-size="17.8" letter-spacing="1.32" fill="#2a2a2a" stroke="#2a2a2a" stroke-width="0.2" >Braided channel is</text>
<text x="625.5" y="376.0" font-size="17.8" letter-spacing="1.25" fill="#2a2a2a" stroke="#2a2a2a" stroke-width="0.2" >banded there are many</text>
<text x="625.5" y="397.0" font-size="17.8" letter-spacing="1.13" fill="#2a2a2a" stroke="#2a2a2a" stroke-width="0.2" >flood plains</text>
<text x="620.6" y="528.0" font-size="17.8" letter-spacing="1.35" fill="#2a2a2a" stroke="#2a2a2a" stroke-width="0.2" >Floodplain deposits are</text>
<text x="620.6" y="549.0" font-size="17.8" letter-spacing="1.37" fill="#2a2a2a" stroke="#2a2a2a" stroke-width="0.2" >dominant and meander</text>
<text x="620.6" y="569.8" font-size="17.8" letter-spacing="1.28" fill="#2a2a2a" stroke="#2a2a2a" stroke-width="0.2" >channels are visible</text>
<text x="825.0" y="237.8" font-size="17.8" letter-spacing="1.16" fill="#2a2a2a" stroke="#2a2a2a" stroke-width="0.2" >Channel fill</text>
<text x="947.6" y="217.7" font-size="17.8" letter-spacing="1.33" fill="#2a2a2a" stroke="#2a2a2a" stroke-width="0.2" >Gravel alluvial</text>
<text x="980.9" y="239.5" font-size="17.8" letter-spacing="1.45" fill="#2a2a2a" stroke="#2a2a2a" stroke-width="0.2" >plain</text>
<text x="824.4" y="412.1" font-size="17.8" letter-spacing="1.37" fill="#2a2a2a" stroke="#2a2a2a" stroke-width="0.2" >Braided river</text>
<text x="965.4" y="412.0" font-size="17.8" letter-spacing="1.20" fill="#2a2a2a" stroke="#2a2a2a" stroke-width="0.2" >Flood plain</text>
<text x="819.8" y="569.6" font-size="17.8" letter-spacing="1.26" fill="#2a2a2a" stroke="#2a2a2a" stroke-width="0.2" >Meandering river</text>
<text x="965.2" y="571.2" font-size="17.8" letter-spacing="1.35" fill="#2a2a2a" stroke="#2a2a2a" stroke-width="0.2" >Flood plain</text>
<defs><linearGradient id="hyd" x1="0" y1="0" x2="0" y2="1"><stop offset="0" stop-color="#1386d4"/><stop offset="0.35" stop-color="#2b95db"/><stop offset="0.7" stop-color="#7dbbe8"/><stop offset="1" stop-color="#e4f0fa"/></linearGradient></defs>
<path d="M1096.5,112.2L1128.2,112.2L1113,546.8Z" fill="url(#hyd)" stroke="#444" stroke-width="0.6"/>
<g transform="translate(620,78) scale(0.16077)">
<rect x="40" y="35" width="1103" height="465" fill="#f2cb0c"/>
<path d="M40,35L335,35Q200,85 40,90Z" fill="#f1e97a" stroke="#7a5a12" stroke-width="7.5" stroke-linejoin="round"/>
<path d="M40,275L120,245L170,268L225,268C150,275 90,295 40,322Z" fill="#f1e97a" stroke="none" stroke-width="7.5" stroke-linejoin="round"/>
<path d="M205,498L310,442C360,470 420,488 480,498Z" fill="#f1e97a" stroke="none" stroke-width="7.5" stroke-linejoin="round"/>
<path d="M780,140C850,128 950,148 1010,130L1143,118L1143,138C1050,160 880,190 780,140Z" fill="#f1e97a" stroke="#7a5a12" stroke-width="7.5" stroke-linejoin="round"/>
<path d="M1005,133C1020,120 1055,120 1072,135C1060,160 1020,165 1005,133Z" fill="#e0a060" stroke="#8a5a20" stroke-width="4" stroke-linejoin="round"/>
<path d="M625,287C660,275 700,275 742,285C720,306 660,310 625,300Z" fill="#f1e97a" stroke="#7a5a12" stroke-width="7.5" stroke-linejoin="round"/>
<path d="M940,337C1000,322 1060,312 1112,290C1090,322 1060,340 1040,340Z" fill="#f1e97a" stroke="#7a5a12" stroke-width="7.5" stroke-linejoin="round"/>
<path d="M215,75C350,110 500,190 620,205S740,150 790,140" fill="none" stroke="#7a5a12" stroke-width="7.5" stroke-linejoin="round"/>
<path d="M40,320C120,260 300,255 440,320C500,290 560,235 600,205" fill="none" stroke="#7a5a12" stroke-width="7.5" stroke-linejoin="round"/>
<path d="M40,415C180,410 320,350 400,305" fill="none" stroke="#7a5a12" stroke-width="7.5" stroke-linejoin="round"/>
<path d="M360,340C420,360 500,365 540,350C580,330 610,300 630,280" fill="none" stroke="#7a5a12" stroke-width="7.5" stroke-linejoin="round"/>
<path d="M560,242C640,272 760,292 850,250C900,225 930,200 950,175" fill="none" stroke="#7a5a12" stroke-width="7.5" stroke-linejoin="round"/>
<path d="M440,355C400,400 340,430 200,497" fill="none" stroke="#7a5a12" stroke-width="7.5" stroke-linejoin="round"/>
<path d="M330,440C450,480 600,470 690,400C640,390 590,370 565,345" fill="none" stroke="#7a5a12" stroke-width="7.5" stroke-linejoin="round"/>
<path d="M450,492C560,470 640,440 690,400" fill="none" stroke="#7a5a12" stroke-width="7.5" stroke-linejoin="round"/>
<path d="M570,345C650,400 800,400 900,350C960,310 1000,280 1020,255" fill="none" stroke="#7a5a12" stroke-width="7.5" stroke-linejoin="round"/>
<path d="M660,425C780,480 950,490 1143,375" fill="none" stroke="#7a5a12" stroke-width="7.5" stroke-linejoin="round"/>
<path d="M745,290C800,310 880,290 940,255C920,250 900,240 880,225" fill="none" stroke="#7a5a12" stroke-width="7.5" stroke-linejoin="round"/>
<path d="M880,225C950,270 1050,250 1143,215" fill="none" stroke="#7a5a12" stroke-width="7.5" stroke-linejoin="round"/>
<path d="M1020,255C1000,290 970,320 940,340" fill="none" stroke="#7a5a12" stroke-width="7.5" stroke-linejoin="round"/>
<path d="M1112,290L1143,278" fill="none" stroke="#7a5a12" stroke-width="7.5" stroke-linejoin="round"/>
<rect x="40" y="35" width="1103" height="465" fill="none" stroke="#8a6a18" stroke-width="6"/>
</g>
<g transform="translate(620,250) scale(0.16077)">
<rect x="47" y="35" width="1088" height="462" fill="#f1e97a"/>
<path d="M47,105L1135,90" fill="none" stroke="#cdbf5a" stroke-width="4" stroke-linejoin="round"/>
<path d="M47,330L1135,325" fill="none" stroke="#d8cc66" stroke-width="3" stroke-linejoin="round"/>
<path d="M47.0,135.0C64.2,135.8 116.2,140.8 150.0,140.0C183.8,139.2 208.3,133.7 250.0,130.0C291.7,126.3 355.0,119.3 400.0,118.0C445.0,116.7 483.3,119.2 520.0,122.0C556.7,124.8 586.7,131.2 620.0,135.0C653.3,138.8 681.7,144.2 720.0,145.0C758.3,145.8 803.3,143.3 850.0,140.0C896.7,136.7 952.5,130.0 1000.0,125.0C1047.5,120.0 1112.5,112.5 1135.0,110.0L1135.0,260.0C1125.8,262.5 1102.5,273.3 1080.0,275.0C1057.5,276.7 1030.0,275.0 1000.0,270.0C970.0,265.0 930.0,254.2 900.0,245.0C870.0,235.8 845.0,220.0 820.0,215.0C795.0,210.0 773.3,211.7 750.0,215.0C726.7,218.3 701.7,229.2 680.0,235.0C658.3,240.8 640.0,248.3 620.0,250.0C600.0,251.7 585.0,249.2 560.0,245.0C535.0,240.8 505.0,230.0 470.0,225.0C435.0,220.0 395.0,215.0 350.0,215.0C305.0,215.0 250.5,224.2 200.0,225.0C149.5,225.8 72.5,220.8 47.0,220.0Z" fill="#f2cb0c" stroke="#7a5a12" stroke-width="7.5" stroke-linejoin="round"/>
<path d="M47,358L1135,355L1135.0,460.0C1125.8,461.7 1102.5,466.7 1080.0,470.0C1057.5,473.3 1030.0,479.2 1000.0,480.0C970.0,480.8 933.3,479.2 900.0,475.0C866.7,470.8 830.0,462.5 800.0,455.0C770.0,447.5 745.0,435.0 720.0,430.0C695.0,425.0 676.7,423.3 650.0,425.0C623.3,426.7 601.7,435.8 560.0,440.0C518.3,444.2 460.0,448.3 400.0,450.0C340.0,451.7 258.8,448.3 200.0,450.0C141.2,451.7 72.5,458.3 47.0,460.0Z" fill="#f2cb0c" stroke="#7a5a12" stroke-width="7.5" stroke-linejoin="round"/>
<path d="M140.0,140.0C158.3,145.8 215.0,167.5 250.0,175.0C285.0,182.5 321.7,184.2 350.0,185.0C378.3,185.8 391.7,187.5 420.0,180.0C448.3,172.5 496.7,148.3 520.0,140.0C543.3,131.7 553.3,131.7 560.0,130.0" fill="none" stroke="#7a5a12" stroke-width="7.5" stroke-linejoin="round"/>
<path d="M440.0,180.0C450.0,185.8 480.0,204.5 500.0,215.0C520.0,225.5 550.0,238.3 560.0,243.0" fill="none" stroke="#7a5a12" stroke-width="7.5" stroke-linejoin="round"/>
<path d="M350,185L320,220" fill="none" stroke="#7a5a12" stroke-width="7.5" stroke-linejoin="round"/>
<path d="M700.0,145.0C710.0,152.5 738.3,176.7 760.0,190.0C781.7,203.3 806.7,215.8 830.0,225.0C853.3,234.2 888.3,241.7 900.0,245.0" fill="none" stroke="#7a5a12" stroke-width="7.5" stroke-linejoin="round"/>
<path d="M680,235L780,200" fill="none" stroke="#7a5a12" stroke-width="7.5" stroke-linejoin="round"/>
<path d="M47.0,410.0C59.2,408.3 94.5,400.8 120.0,400.0C145.5,399.2 173.3,400.8 200.0,405.0C226.7,409.2 250.0,420.8 280.0,425.0C310.0,429.2 356.7,429.2 380.0,430.0C403.3,430.8 403.3,435.0 420.0,430.0C436.7,425.0 460.0,411.3 480.0,400.0C500.0,388.7 530.0,368.3 540.0,362.0" fill="none" stroke="#7a5a12" stroke-width="7.5" stroke-linejoin="round"/>
<path d="M390,450L420,430" fill="none" stroke="#7a5a12" stroke-width="7.5" stroke-linejoin="round"/>
<path d="M560.0,440.0C583.3,435.0 666.7,419.2 700.0,410.0C733.3,400.8 741.7,393.7 760.0,385.0C778.3,376.3 801.7,362.5 810.0,358.0" fill="none" stroke="#7a5a12" stroke-width="7.5" stroke-linejoin="round"/>
<path d="M700,410L745,438" fill="none" stroke="#7a5a12" stroke-width="7.5" stroke-linejoin="round"/>
<path d="M90,92L230,85C210,110 170,128 150,125C120,122 100,108 90,92Z" fill="#f2b07a" stroke="#9a6a30" stroke-width="4" stroke-linejoin="round"/>
<path d="M680,280L820,270C800,295 760,314 740,312C715,305 690,292 680,280Z" fill="#f2b07a" stroke="#9a6a30" stroke-width="4" stroke-linejoin="round"/>
<path d="M735,72C800,68 900,72 980,78C900,86 800,84 735,72Z" fill="#8c7a32" stroke="#6e5e20" stroke-width="3" stroke-linejoin="round"/>
<path d="M115,295C250,298 400,302 550,310C400,322 250,318 115,295Z" fill="#e8b880" stroke="#6e5e20" stroke-width="3" stroke-linejoin="round"/>
<path d="M115,295C250,296 400,300 550,309" fill="none" stroke="#6e5e20" stroke-width="7" stroke-linejoin="round"/>
<path d="M580,305L700,303" fill="none" stroke="#b9a040" stroke-width="3" stroke-linejoin="round"/>
<rect x="47" y="35" width="1088" height="462" fill="none" stroke="#77703a" stroke-width="6"/>
</g>
<g transform="translate(620,424) scale(0.16077)">
<rect x="40" y="35" width="1095" height="453" fill="#f5b66b"/>
<path d="M410,55L1045,70" fill="none" stroke="#a8713e" stroke-width="3" stroke-linejoin="round"/>
<path d="M365,145L1000,150" fill="none" stroke="#a8713e" stroke-width="3" stroke-linejoin="round"/>
<path d="M630,200L1130,208" fill="none" stroke="#a8713e" stroke-width="3" stroke-linejoin="round"/>
<path d="M355,245L1120,250" fill="none" stroke="#a8713e" stroke-width="3" stroke-linejoin="round"/>
<path d="M140,130C180,122 240,122 270,130C262,160 220,195 195,195C165,185 145,160 140,130Z" fill="#e9e85c" stroke="#5e5410" stroke-width="5" stroke-linejoin="round"/>
<path d="M1005,150C1030,143 1070,143 1090,150C1088,172 1065,190 1050,190C1030,185 1010,170 1005,150Z" fill="#e9e85c" stroke="#5e5410" stroke-width="5" stroke-linejoin="round"/>
<path d="M555,297C585,290 625,290 650,297C648,320 620,345 600,345C578,338 560,320 555,297Z" fill="#e9e85c" stroke="#5e5410" stroke-width="5" stroke-linejoin="round"/>
<path d="M80,415C110,410 150,413 172,422C165,445 135,465 115,465C98,455 84,435 80,415Z" fill="#e9e85c" stroke="#5e5410" stroke-width="5" stroke-linejoin="round"/>
<path d="M1035,417C1065,410 1105,410 1125,417C1122,438 1098,458 1080,458C1060,450 1040,435 1035,417Z" fill="#e9e85c" stroke="#5e5410" stroke-width="5" stroke-linejoin="round"/>
<path d="M90,45Q237.5,62.5 385,72Q217.5,80.5 90,45Z" fill="#e9e85c" stroke="#5e5410" stroke-width="3" stroke-linejoin="round"/>
<path d="M90,45Q237.5,62.5 385,72" fill="none" stroke="#4e4510" stroke-width="6" stroke-linejoin="round"/>
<path d="M560,130Q702.5,145.0 845,152Q682.5,163.0 560,130Z" fill="#e9e85c" stroke="#5e5410" stroke-width="3" stroke-linejoin="round"/>
<path d="M560,130Q702.5,145.0 845,152" fill="none" stroke="#4e4510" stroke-width="6" stroke-linejoin="round"/>
<path d="M170,375Q304.0,389.0 438,395Q284.0,407.0 170,375Z" fill="#e9e85c" stroke="#5e5410" stroke-width="3" stroke-linejoin="round"/>
<path d="M170,375Q304.0,389.0 438,395" fill="none" stroke="#4e4510" stroke-width="6" stroke-linejoin="round"/>
<path d="M768,412Q894.0,426.0 1020,432Q874.0,444.0 768,412Z" fill="#e9e85c" stroke="#5e5410" stroke-width="3" stroke-linejoin="round"/>
<path d="M768,412Q894.0,426.0 1020,432" fill="none" stroke="#4e4510" stroke-width="6" stroke-linejoin="round"/>
<rect x="40" y="35" width="1095" height="453" fill="none" stroke="#6a5a4a" stroke-width="6"/>
</g>
<path d="M825,72.2L920.7,72.2L920.5,74.5L920.2,76.7L920.9,79.0L920.1,81.3L920.8,83.5L920.5,85.8L920.1,88.1L920.7,90.3L920.1,92.6L920.6,94.9L920.1,97.1L920.1,99.4L920.6,101.7L921.2,103.9L920.2,106.2L920.3,108.5L920.9,110.7L921.3,113.0L920.8,115.3L920.6,117.5L920.7,119.8L825,119.8Z" fill="#cecece" stroke="#1a1a1a" stroke-width="1.9" stroke-linejoin="round"/>
<path d="M916.3,75.8h0.65M853.1,80.1h0.39M854.9,110.1h0.41M880.0,102.2h0.48M876.9,76.5h0.37M845.4,104.0h0.50M855.4,99.8h0.51M854.1,109.1h0.59M849.0,99.3h0.53M907.0,106.2h0.45M916.7,79.0h0.50M896.2,80.5h0.52M830.1,103.5h0.62M879.2,112.7h0.46M890.5,100.2h0.55M868.5,111.2h0.68M870.1,103.3h0.37M891.0,102.6h0.70M902.1,86.4h0.49M888.0,74.7h0.51M842.0,78.9h0.37M897.2,79.5h0.44M862.5,112.6h0.38M867.8,98.2h0.66M901.9,112.2h0.45M864.7,89.7h0.66M914.6,80.4h0.41M847.8,84.1h0.52M880.7,85.4h0.35M865.0,90.2h0.55M914.2,104.5h0.53M883.3,103.9h0.37M909.3,108.5h0.66M899.9,91.2h0.49M836.0,102.0h0.37M832.7,83.0h0.41M857.8,76.0h0.35M840.4,78.2h0.48M828.8,112.7h0.56M840.2,85.0h0.47M860.0,79.2h0.65M917.9,94.5h0.52M834.4,78.3h0.47M850.9,110.7h0.41M828.6,116.1h0.53M840.0,97.9h0.36M875.1,117.3h0.65M890.6,85.3h0.48M841.9,108.1h0.54M898.2,88.4h0.43M901.2,117.6h0.65M900.7,110.2h0.61M847.4,96.8h0.47M829.2,74.9h0.45M850.3,104.6h0.68M867.6,115.5h0.70M914.4,90.0h0.43M847.4,82.5h0.42M883.9,113.9h0.64M870.6,102.8h0.63M834.3,103.2h0.67M898.5,107.2h0.52M842.9,108.9h0.47M900.2,117.0h0.49M863.4,115.9h0.60M842.1,79.4h0.40M909.7,109.7h0.40M902.5,117.4h0.58M858.7,98.2h0.40M827.8,117.0h0.58M874.9,115.3h0.50M906.7,110.5h0.42M849.7,86.8h0.43M880.5,85.3h0.50M838.6,114.3h0.47M868.7,99.7h0.67M865.2,114.6h0.53M875.4,97.0h0.36M867.0,81.9h0.35M900.0,81.4h0.52M893.2,98.5h0.46M874.2,98.5h0.62M836.3,98.7h0.44M852.0,108.1h0.53M878.2,107.6h0.67M867.3,101.0h0.53M873.6,104.6h0.51M875.6,95.0h0.68M890.8,112.8h0.68M850.4,98.7h0.68M903.8,79.8h0.39M867.2,76.9h0.43M833.2,103.6h0.62M909.0,80.6h0.60M887.2,80.1h0.66M915.5,83.5h0.68M863.1,95.4h0.70M903.1,80.9h0.50M873.9,88.8h0.42M855.8,105.9h0.36M877.5,93.3h0.36M857.0,101.5h0.53M832.4,117.6h0.63M915.9,78.4h0.44M830.1,108.4h0.44M838.4,92.5h0.67M901.8,85.2h0.40M911.1,99.1h0.60M834.7,76.3h0.59M865.6,76.9h0.68M884.9,109.5h0.38M905.3,76.7h0.65M868.2,88.8h0.54M911.8,85.6h0.40M875.0,84.3h0.39M841.4,75.9h0.42M855.2,87.3h0.62M853.2,96.0h0.41M858.4,74.5h0.44M827.9,106.4h0.54M843.9,94.9h0.68M836.3,110.2h0.50M872.0,110.9h0.49M873.1,104.4h0.69M858.0,110.8h0.60M885.0,91.7h0.47M831.5,79.5h0.37M894.7,85.1h0.41M834.3,111.2h0.65M888.2,86.3h0.43M853.5,94.2h0.41M867.5,85.4h0.69M916.0,98.1h0.44M915.3,87.5h0.47M826.6,90.7h0.52M872.8,82.7h0.53M827.0,85.5h0.38M863.3,75.6h0.36M854.5,84.1h0.55M875.2,107.2h0.58M892.4,112.9h0.49M856.5,117.6h0.40M893.1,102.4h0.37M903.3,113.5h0.57M894.0,109.9h0.40M874.7,96.2h0.64M900.5,110.6h0.55M908.6,104.2h0.59M847.7,75.1h0.40M859.7,78.4h0.64M877.9,101.7h0.57M889.1,95.5h0.35M899.9,107.1h0.53M875.7,103.1h0.37M894.3,84.9h0.38M850.9,106.2h0.42M894.6,117.2h0.52M861.7,95.1h0.59M897.1,101.2h0.57M833.6,80.3h0.44M894.9,87.3h0.55M827.6,76.4h0.44M888.3,104.6h0.59M853.3,96.7h0.51M869.4,79.0h0.66M844.8,117.3h0.68M828.1,94.2h0.64M915.6,93.7h0.44M845.8,115.9h0.42M880.0,80.0h0.53M914.2,79.6h0.64M873.3,113.3h0.60M847.8,113.7h0.52M828.8,73.9h0.52M868.0,87.2h0.40M858.1,87.8h0.64M826.7,107.2h0.64M837.5,115.0h0.60M909.4,86.6h0.48M862.6,118.2h0.56M859.7,92.8h0.45M830.9,78.2h0.64M852.8,115.4h0.44M850.9,96.5h0.42M860.8,116.3h0.66M901.2,101.8h0.67M913.0,98.2h0.60M831.1,106.4h0.51M895.7,102.4h0.45M831.0,115.0h0.39M869.9,89.0h0.45M894.5,117.2h0.44M886.9,87.1h0.55M862.8,81.2h0.41M845.6,114.1h0.52M846.7,114.1h0.70M867.9,79.9h0.42M834.8,89.0h0.38M848.5,85.2h0.55M908.1,107.1h0.49M864.6,97.1h0.48M857.6,76.5h0.45M915.5,79.3h0.53M884.4,112.2h0.43M851.4,84.8h0.49M867.5,116.2h0.65M906.8,74.7h0.36M891.8,113.6h0.52M880.5,73.7h0.49M911.8,110.5h0.65M915.9,84.8h0.39M840.7,97.0h0.59M913.1,105.9h0.58M896.9,94.1h0.54M830.1,108.6h0.43M911.1,102.5h0.46M838.3,84.9h0.57M890.8,78.7h0.37M874.7,99.7h0.49M847.1,100.5h0.35M854.2,94.2h0.69M885.8,113.1h0.52M848.1,84.7h0.69M891.3,87.4h0.36M872.3,103.8h0.50M850.2,103.5h0.67M847.4,75.2h0.47M865.2,104.1h0.42M899.8,106.7h0.53M845.4,117.0h0.46" stroke="#4a4a4a" stroke-width="1" stroke-linecap="round" fill="none"/>
<path d="M829.0,95.9Q839.0,104.6 851.2,97.7M851.2,97.7Q861.3,104.6 873.5,95.9M873.5,95.9Q883.5,104.6 895.8,97.7M895.8,97.7Q905.8,104.6 918.0,95.9M841.2,93.8Q850.1,101.0 862.4,93.0M863.5,93.8Q872.4,101.0 884.6,93.0M885.7,93.8Q894.6,101.0 906.9,93.0M862.4,91.2Q873.5,96.6 886.9,88.4" stroke="#4a4a4a" stroke-width="0.8" fill="none"/>
<path d="M825,119.8L920.7,119.8L921.1,122.0L920.3,124.2L920.3,126.4L921.1,128.6L920.4,130.9L921.3,133.1L920.7,135.3L920.3,137.5L920.3,139.7L920.6,141.9L920.9,144.1L921.3,146.3L920.2,148.6L920.6,150.8L920.3,153.0L921.4,155.2L920.7,157.4L825,157.4Z" fill="#cecece" stroke="#1a1a1a" stroke-width="1.9" stroke-linejoin="round"/>
<path d="M839.6,123.1h0.37M862.7,152.4h0.66M893.9,155.8h0.68M856.8,127.7h0.68M895.2,122.4h0.58M861.3,134.2h0.47M842.1,121.4h0.45M858.8,154.4h0.39M915.2,128.5h0.47M902.1,149.7h0.50M831.0,137.7h0.48M911.1,128.0h0.48M909.0,122.3h0.49M901.2,147.8h0.36M829.7,123.5h0.67M850.1,147.2h0.66M857.7,130.7h0.69M883.3,130.4h0.60M855.6,130.8h0.35M896.0,153.0h0.57M913.3,122.1h0.43M870.2,154.4h0.68M862.1,130.0h0.50M871.9,153.4h0.41M900.3,146.9h0.64M897.6,142.3h0.46M855.9,133.8h0.62M833.8,128.1h0.61M849.3,123.5h0.36M877.3,132.6h0.69M907.8,155.5h0.44M834.2,124.6h0.52M891.8,136.8h0.43M864.8,142.8h0.59M895.3,150.6h0.58M837.6,150.4h0.45M878.7,134.2h0.61M844.8,129.9h0.44M840.6,151.9h0.55M856.5,135.0h0.70M873.2,129.3h0.63M886.6,155.6h0.39M870.2,149.6h0.64M910.6,122.7h0.45M837.5,127.9h0.69M880.2,153.5h0.48M906.2,136.8h0.44M898.1,154.0h0.39M881.3,142.8h0.43M860.4,126.2h0.42M850.0,142.0h0.58M845.2,121.7h0.46M888.9,127.7h0.46M845.2,148.8h0.54M832.3,124.8h0.49M877.1,143.4h0.38M841.6,145.4h0.49M852.6,131.9h0.68M855.2,140.9h0.48M864.8,151.2h0.70M860.0,128.1h0.60M845.2,121.5h0.67M865.5,149.7h0.49M907.7,137.2h0.41M827.9,140.4h0.57M910.2,124.4h0.57M860.6,138.8h0.40M852.6,139.3h0.67M836.5,138.3h0.63M915.5,128.1h0.39M913.3,155.1h0.52M831.4,153.3h0.49M909.7,142.8h0.64M841.2,148.5h0.43M863.7,150.6h0.64M843.3,128.8h0.49M874.1,134.6h0.39M849.2,146.4h0.66M830.3,140.8h0.62M830.0,150.3h0.39M881.7,140.3h0.57M854.7,135.8h0.55M865.7,144.1h0.51M866.8,122.1h0.57M871.5,129.4h0.62M898.3,137.2h0.41M870.0,125.0h0.39M866.1,124.5h0.50M873.4,122.7h0.57M834.1,146.7h0.62M873.6,123.2h0.53M861.3,154.2h0.40M905.4,155.8h0.61M901.5,128.0h0.69M871.8,154.4h0.67M841.7,148.6h0.68M832.5,133.4h0.61M841.1,152.3h0.45M901.5,126.3h0.53M911.1,128.5h0.44M873.1,132.3h0.36M843.3,126.9h0.68M889.0,152.3h0.41M898.7,125.3h0.54M885.0,133.7h0.66M877.6,141.4h0.66M836.1,155.7h0.57M862.8,148.9h0.44M917.6,141.3h0.48M896.8,136.6h0.41M894.9,123.0h0.64M849.8,143.4h0.69M880.4,144.3h0.46M826.7,122.5h0.40M883.2,136.3h0.53M908.9,125.9h0.43M886.6,122.1h0.35M859.2,125.0h0.48M847.1,141.5h0.56M845.3,142.9h0.52M838.9,153.7h0.44M840.2,124.6h0.57M906.7,148.4h0.49M850.8,121.7h0.58M878.2,133.4h0.58M867.3,153.7h0.61M849.4,152.6h0.37M875.4,135.3h0.43M831.9,148.2h0.35M877.2,153.9h0.40M844.9,142.3h0.53M885.5,149.4h0.41M855.0,131.7h0.37M908.3,148.4h0.60M827.1,150.5h0.61M869.3,147.0h0.51M847.3,124.9h0.43M830.1,132.9h0.61M890.5,150.5h0.60M851.0,140.5h0.50M899.0,139.4h0.44M885.6,154.7h0.43M907.5,121.8h0.44M848.2,147.0h0.68M895.1,132.6h0.66M856.7,129.6h0.67M884.5,145.3h0.58M916.6,137.5h0.64M890.7,151.0h0.50M893.2,141.0h0.46M846.0,142.8h0.38M910.3,126.3h0.36M836.3,153.4h0.47M839.5,122.3h0.36M890.2,143.2h0.59M894.3,123.6h0.56M859.9,149.6h0.64M908.5,123.6h0.65M910.6,154.0h0.39M845.4,125.2h0.36M904.5,149.4h0.57M902.4,143.2h0.45M835.7,124.7h0.62M845.4,132.3h0.50M828.4,130.2h0.45M892.4,134.0h0.46M915.2,138.7h0.65M883.4,122.4h0.49M866.7,148.0h0.47M891.3,139.9h0.43M905.8,124.4h0.64M842.2,121.3h0.42M896.6,155.1h0.35M871.7,138.3h0.63M843.5,138.4h0.47M903.0,130.3h0.68M852.6,128.7h0.59M872.3,125.1h0.57M833.9,148.6h0.59M898.9,143.0h0.47M863.4,135.0h0.66M834.4,152.0h0.36M845.5,130.4h0.67M872.6,134.4h0.66M848.0,137.2h0.54M895.9,147.4h0.58M858.6,132.6h0.40M904.1,144.2h0.61M842.1,136.5h0.62M879.8,125.7h0.51" stroke="#4a4a4a" stroke-width="1" stroke-linecap="round" fill="none"/>
<path d="M833,133.0H909M833,138.5H909M833,144.0H909M837.8,144.0L846.3,133.0M841.5,144.0L850.1,133.0M856.8,144.0L865.3,133.0M860.5,144.0L869.1,133.0M875.8,144.0L884.3,133.0M879.5,144.0L888.1,133.0M894.8,144.0L903.3,133.0M898.5,144.0L907.1,133.0" stroke="#444" stroke-width="0.8" fill="none"/>
<path d="M825,157.4L920.7,157.4L921.2,159.7L920.3,162.0L920.3,164.3L920.4,166.7L921.0,169.0L921.2,171.3L920.2,173.6L920.7,175.9L825,175.9Z" fill="#9d9d9d" stroke="#1a1a1a" stroke-width="1.9" stroke-linejoin="round"/>
<path d="M840.9,162.7h0.46M874.5,161.4h0.46M843.9,174.0h0.61M835.9,173.8h0.39M861.8,174.1h0.63M894.0,165.6h0.42M885.2,160.6h0.42M862.2,159.4h0.49M899.3,169.6h0.53M884.7,166.1h0.40M882.0,165.2h0.61M910.0,165.6h0.55M895.4,165.4h0.43M892.9,172.5h0.62M890.9,172.1h0.59M885.5,165.9h0.46M884.3,160.4h0.50M898.5,170.0h0.57M849.5,165.5h0.51M883.7,165.2h0.59M912.1,161.7h0.58M898.1,164.9h0.52M916.2,159.5h0.54M841.3,171.0h0.68M874.3,160.5h0.55M876.3,170.0h0.53M885.3,171.7h0.53M864.3,173.6h0.42M889.5,165.0h0.62M837.8,174.2h0.47M831.7,163.2h0.49M827.7,165.4h0.50M890.7,164.4h0.44M847.1,170.4h0.68M875.0,162.3h0.63M862.6,162.2h0.40M897.9,171.4h0.57M869.7,167.6h0.43M915.2,164.4h0.57M901.8,171.6h0.51M853.6,167.4h0.39M903.2,164.4h0.65M851.1,164.7h0.44M865.7,161.8h0.35M892.9,163.3h0.44M854.3,166.3h0.50M885.1,169.1h0.48M911.9,172.1h0.37M902.7,172.9h0.62M839.4,171.8h0.57M827.9,159.1h0.68M886.8,162.8h0.39M839.6,162.5h0.62M858.4,161.3h0.67M899.3,161.5h0.66M882.5,171.0h0.58M908.7,171.1h0.64M844.7,169.6h0.54M894.8,165.7h0.66M877.6,163.0h0.43M839.3,166.5h0.37M869.5,161.1h0.52M872.3,167.3h0.65M827.1,171.9h0.51M878.3,169.2h0.64M861.0,165.4h0.69M833.4,168.8h0.57M829.1,168.3h0.59M912.2,164.0h0.69M873.5,166.4h0.66M829.6,170.0h0.57M857.7,172.3h0.48M870.2,167.0h0.62M845.9,165.6h0.50M877.5,171.7h0.45M902.7,165.2h0.53M851.5,166.7h0.69M886.7,171.2h0.47M855.7,163.5h0.56M884.9,171.1h0.36" stroke="#555" stroke-width="1" stroke-linecap="round" fill="none"/>
<path d="M847.2,164.3H893.3M846.6,165.5H895.9M845.9,166.7H896.0" stroke="#777" stroke-width="0.7" fill="none"/>
<path d="M825,175.9L920.7,175.9L920.3,178.2L921.3,180.4L920.9,182.7L920.9,184.9L921.1,187.2L921.3,189.5L920.9,191.7L920.7,194.0L931.2,212.5L931.2,215.6L825,215.6Z" fill="#d2d2d2" stroke="#1a1a1a" stroke-width="1.5" stroke-linejoin="round"/>
<g fill="#e0e0e0" stroke="#555" stroke-width="0.6"><ellipse cx="885.2" cy="200.1" rx="2.0" ry="1.5" transform="rotate(14 885.2 200.1)"/><ellipse cx="887.2" cy="185.9" rx="1.1" ry="0.9" transform="rotate(-32 887.2 185.9)"/><ellipse cx="830.8" cy="184.8" rx="1.3" ry="1.1" transform="rotate(12 830.8 184.8)"/><ellipse cx="901.1" cy="191.4" rx="1.6" ry="1.2" transform="rotate(-19 901.1 191.4)"/><ellipse cx="865.2" cy="189.1" rx="1.0" ry="0.7" transform="rotate(11 865.2 189.1)"/><ellipse cx="832.8" cy="211.2" rx="2.3" ry="1.3" transform="rotate(-30 832.8 211.2)"/><ellipse cx="882.1" cy="206.9" rx="2.9" ry="2.0" transform="rotate(-39 882.1 206.9)"/><ellipse cx="880.5" cy="192.0" rx="1.8" ry="1.6" transform="rotate(-2 880.5 192.0)"/><ellipse cx="836.6" cy="192.9" rx="1.5" ry="1.0" transform="rotate(-28 836.6 192.9)"/><ellipse cx="827.9" cy="179.0" rx="1.0" ry="0.6" transform="rotate(37 827.9 179.0)"/><ellipse cx="905.3" cy="181.6" rx="0.8" ry="0.4" transform="rotate(18 905.3 181.6)"/><ellipse cx="893.2" cy="187.0" rx="0.9" ry="0.5" transform="rotate(22 893.2 187.0)"/><ellipse cx="907.4" cy="203.5" rx="2.2" ry="1.3" transform="rotate(10 907.4 203.5)"/><ellipse cx="870.5" cy="203.3" rx="2.6" ry="1.7" transform="rotate(37 870.5 203.3)"/><ellipse cx="828.6" cy="203.6" rx="0.8" ry="0.6" transform="rotate(25 828.6 203.6)"/><ellipse cx="855.3" cy="181.3" rx="1.1" ry="0.7" transform="rotate(29 855.3 181.3)"/><ellipse cx="832.9" cy="195.5" rx="1.2" ry="0.9" transform="rotate(-5 832.9 195.5)"/><ellipse cx="841.0" cy="202.2" rx="2.3" ry="1.5" transform="rotate(12 841.0 202.2)"/><ellipse cx="866.0" cy="200.5" rx="1.4" ry="1.2" transform="rotate(36 866.0 200.5)"/><ellipse cx="895.9" cy="212.6" rx="3.1" ry="2.0" transform="rotate(8 895.9 212.6)"/><ellipse cx="908.4" cy="212.7" rx="2.4" ry="1.6" transform="rotate(-6 908.4 212.7)"/><ellipse cx="863.7" cy="209.6" rx="2.5" ry="1.9" transform="rotate(32 863.7 209.6)"/><ellipse cx="854.4" cy="206.8" rx="0.7" ry="0.5" transform="rotate(-6 854.4 206.8)"/><ellipse cx="902.2" cy="199.0" rx="2.2" ry="1.3" transform="rotate(27 902.2 199.0)"/><ellipse cx="909.8" cy="206.9" rx="2.1" ry="1.3" transform="rotate(28 909.8 206.9)"/><ellipse cx="892.4" cy="206.7" rx="2.8" ry="1.9" transform="rotate(-33 892.4 206.7)"/><ellipse cx="850.1" cy="211.1" rx="2.4" ry="1.9" transform="rotate(-3 850.1 211.1)"/><ellipse cx="850.3" cy="185.7" rx="1.3" ry="1.1" transform="rotate(-3 850.3 185.7)"/><ellipse cx="899.7" cy="181.6" rx="1.2" ry="0.7" transform="rotate(6 899.7 181.6)"/><ellipse cx="912.6" cy="209.9" rx="2.1" ry="1.5" transform="rotate(7 912.6 209.9)"/><ellipse cx="844.7" cy="185.1" rx="0.9" ry="0.7" transform="rotate(-11 844.7 185.1)"/><ellipse cx="864.2" cy="198.3" rx="1.6" ry="0.9" transform="rotate(-36 864.2 198.3)"/><ellipse cx="864.0" cy="213.4" rx="1.0" ry="0.8" transform="rotate(23 864.0 213.4)"/><ellipse cx="881.0" cy="184.0" rx="1.0" ry="0.7" transform="rotate(-38 881.0 184.0)"/><ellipse cx="916.1" cy="179.7" rx="1.1" ry="0.8" transform="rotate(5 916.1 179.7)"/><ellipse cx="897.2" cy="187.7" rx="1.1" ry="1.0" transform="rotate(21 897.2 187.7)"/><ellipse cx="919.0" cy="207.2" rx="1.3" ry="0.7" transform="rotate(-24 919.0 207.2)"/><ellipse cx="835.0" cy="184.8" rx="0.8" ry="0.6" transform="rotate(30 835.0 184.8)"/><ellipse cx="912.5" cy="194.5" rx="2.0" ry="1.1" transform="rotate(8 912.5 194.5)"/><ellipse cx="867.6" cy="192.3" rx="0.9" ry="0.8" transform="rotate(39 867.6 192.3)"/><ellipse cx="840.5" cy="180.5" rx="1.1" ry="1.0" transform="rotate(14 840.5 180.5)"/><ellipse cx="880.4" cy="189.0" rx="1.5" ry="0.9" transform="rotate(-14 880.4 189.0)"/><ellipse cx="838.6" cy="187.5" rx="1.2" ry="0.7" transform="rotate(-21 838.6 187.5)"/><ellipse cx="888.1" cy="183.5" rx="0.7" ry="0.6" transform="rotate(-24 888.1 183.5)"/><ellipse cx="910.5" cy="179.8" rx="0.8" ry="0.7" transform="rotate(29 910.5 179.8)"/><ellipse cx="840.9" cy="209.6" rx="1.9" ry="1.1" transform="rotate(34 840.9 209.6)"/><ellipse cx="887.4" cy="208.0" rx="1.8" ry="1.2" transform="rotate(26 887.4 208.0)"/><ellipse cx="884.0" cy="195.2" rx="0.9" ry="0.6" transform="rotate(-35 884.0 195.2)"/><ellipse cx="879.2" cy="203.5" rx="1.0" ry="0.9" transform="rotate(-19 879.2 203.5)"/><ellipse cx="841.4" cy="192.9" rx="1.1" ry="0.9" transform="rotate(-13 841.4 192.9)"/><ellipse cx="871.4" cy="184.4" rx="0.9" ry="0.8" transform="rotate(-31 871.4 184.4)"/><ellipse cx="870.2" cy="185.9" rx="1.0" ry="0.6" transform="rotate(-24 870.2 185.9)"/><ellipse cx="916.2" cy="191.2" rx="1.9" ry="1.6" transform="rotate(-32 916.2 191.2)"/><ellipse cx="907.7" cy="188.6" rx="0.8" ry="0.6" transform="rotate(-17 907.7 188.6)"/><ellipse cx="827.7" cy="183.4" rx="1.3" ry="0.9" transform="rotate(-25 827.7 183.4)"/><ellipse cx="909.1" cy="193.7" rx="1.0" ry="0.8" transform="rotate(-29 909.1 193.7)"/><ellipse cx="896.5" cy="184.8" rx="1.2" ry="0.8" transform="rotate(-34 896.5 184.8)"/><ellipse cx="882.0" cy="181.6" rx="1.0" ry="0.6" transform="rotate(-24 882.0 181.6)"/><ellipse cx="892.6" cy="199.9" rx="2.2" ry="1.6" transform="rotate(-24 892.6 199.9)"/><ellipse cx="893.1" cy="180.8" rx="0.9" ry="0.8" transform="rotate(-36 893.1 180.8)"/><ellipse cx="859.3" cy="206.9" rx="2.7" ry="2.3" transform="rotate(-1 859.3 206.9)"/><ellipse cx="909.0" cy="179.0" rx="0.9" ry="0.8" transform="rotate(-19 909.0 179.0)"/><ellipse cx="901.9" cy="185.0" rx="1.0" ry="0.6" transform="rotate(-10 901.9 185.0)"/><ellipse cx="827.9" cy="199.3" rx="1.6" ry="1.1" transform="rotate(1 827.9 199.3)"/><ellipse cx="891.5" cy="182.7" rx="1.2" ry="1.1" transform="rotate(-14 891.5 182.7)"/><ellipse cx="863.1" cy="203.4" rx="2.3" ry="1.3" transform="rotate(30 863.1 203.4)"/><ellipse cx="875.5" cy="211.9" rx="2.1" ry="1.6" transform="rotate(3 875.5 211.9)"/><ellipse cx="914.1" cy="179.2" rx="0.8" ry="0.5" transform="rotate(-32 914.1 179.2)"/><ellipse cx="900.6" cy="187.3" rx="0.7" ry="0.4" transform="rotate(16 900.6 187.3)"/><ellipse cx="891.2" cy="196.8" rx="0.9" ry="0.8" transform="rotate(17 891.2 196.8)"/><ellipse cx="838.5" cy="180.1" rx="1.0" ry="0.7" transform="rotate(-18 838.5 180.1)"/><ellipse cx="863.8" cy="182.8" rx="0.8" ry="0.6" transform="rotate(29 863.8 182.8)"/><ellipse cx="878.8" cy="183.7" rx="1.2" ry="0.7" transform="rotate(26 878.8 183.7)"/><ellipse cx="849.0" cy="190.3" rx="1.1" ry="0.8" transform="rotate(38 849.0 190.3)"/><ellipse cx="873.8" cy="180.4" rx="1.2" ry="1.1" transform="rotate(-20 873.8 180.4)"/><ellipse cx="884.1" cy="193.3" rx="1.2" ry="0.9" transform="rotate(-34 884.1 193.3)"/><ellipse cx="872.7" cy="193.7" rx="0.7" ry="0.4" transform="rotate(38 872.7 193.7)"/><ellipse cx="915.9" cy="205.7" rx="2.1" ry="1.8" transform="rotate(31 915.9 205.7)"/><ellipse cx="852.9" cy="202.2" rx="1.8" ry="1.6" transform="rotate(10 852.9 202.2)"/><ellipse cx="874.1" cy="187.3" rx="1.1" ry="1.0" transform="rotate(-17 874.1 187.3)"/><ellipse cx="885.5" cy="189.2" rx="0.8" ry="0.6" transform="rotate(36 885.5 189.2)"/><ellipse cx="851.8" cy="196.5" rx="1.4" ry="1.1" transform="rotate(-28 851.8 196.5)"/><ellipse cx="839.3" cy="182.8" rx="0.9" ry="0.6" transform="rotate(-17 839.3 182.8)"/><ellipse cx="835.4" cy="187.0" rx="1.2" ry="1.0" transform="rotate(9 835.4 187.0)"/><ellipse cx="876.7" cy="194.6" rx="1.6" ry="1.1" transform="rotate(-15 876.7 194.6)"/><ellipse cx="847.3" cy="187.0" rx="1.2" ry="0.8" transform="rotate(7 847.3 187.0)"/><ellipse cx="859.1" cy="178.9" rx="1.1" ry="0.7" transform="rotate(5 859.1 178.9)"/><ellipse cx="842.5" cy="205.5" rx="0.9" ry="0.7" transform="rotate(-5 842.5 205.5)"/><ellipse cx="862.2" cy="180.7" rx="1.0" ry="0.8" transform="rotate(-31 862.2 180.7)"/><ellipse cx="913.4" cy="186.4" rx="1.3" ry="0.8" transform="rotate(-13 913.4 186.4)"/><ellipse cx="887.9" cy="190.8" rx="1.4" ry="1.2" transform="rotate(26 887.9 190.8)"/><ellipse cx="894.4" cy="196.6" rx="1.9" ry="1.5" transform="rotate(-2 894.4 196.6)"/><ellipse cx="827.9" cy="209.0" rx="2.6" ry="2.0" transform="rotate(-0 827.9 209.0)"/><ellipse cx="883.0" cy="212.2" rx="1.9" ry="1.6" transform="rotate(30 883.0 212.2)"/><ellipse cx="856.3" cy="192.0" rx="1.7" ry="1.4" transform="rotate(-0 856.3 192.0)"/><ellipse cx="844.0" cy="194.0" rx="1.1" ry="0.7" transform="rotate(6 844.0 194.0)"/><ellipse cx="835.5" cy="198.9" rx="2.3" ry="1.5" transform="rotate(27 835.5 198.9)"/><ellipse cx="859.5" cy="192.1" rx="1.4" ry="1.0" transform="rotate(36 859.5 192.1)"/><ellipse cx="876.3" cy="202.2" rx="0.9" ry="0.6" transform="rotate(-8 876.3 202.2)"/><ellipse cx="879.9" cy="198.1" rx="2.2" ry="1.9" transform="rotate(-1 879.9 198.1)"/><ellipse cx="867.9" cy="209.6" rx="1.1" ry="0.7" transform="rotate(1 867.9 209.6)"/><ellipse cx="844.5" cy="196.2" rx="1.0" ry="0.8" transform="rotate(8 844.5 196.2)"/><ellipse cx="898.0" cy="192.9" rx="1.1" ry="0.9" transform="rotate(-40 898.0 192.9)"/><ellipse cx="902.9" cy="189.2" rx="1.3" ry="1.0" transform="rotate(-24 902.9 189.2)"/><ellipse cx="918.0" cy="197.1" rx="1.6" ry="1.1" transform="rotate(-30 918.0 197.1)"/><ellipse cx="874.3" cy="184.5" rx="1.3" ry="1.0" transform="rotate(25 874.3 184.5)"/><ellipse cx="908.4" cy="182.0" rx="1.1" ry="0.7" transform="rotate(-4 908.4 182.0)"/><ellipse cx="832.4" cy="192.0" rx="1.8" ry="1.3" transform="rotate(37 832.4 192.0)"/><ellipse cx="848.2" cy="203.6" rx="1.4" ry="1.2" transform="rotate(-1 848.2 203.6)"/><ellipse cx="850.5" cy="206.2" rx="1.1" ry="0.8" transform="rotate(-25 850.5 206.2)"/><ellipse cx="855.8" cy="212.5" rx="2.3" ry="1.4" transform="rotate(3 855.8 212.5)"/><ellipse cx="863.6" cy="192.0" rx="0.8" ry="0.5" transform="rotate(26 863.6 192.0)"/><ellipse cx="913.3" cy="191.7" rx="1.0" ry="0.9" transform="rotate(0 913.3 191.7)"/><ellipse cx="868.0" cy="186.5" rx="0.8" ry="0.7" transform="rotate(-19 868.0 186.5)"/><ellipse cx="847.0" cy="199.8" rx="2.3" ry="1.3" transform="rotate(1 847.0 199.8)"/><ellipse cx="880.1" cy="201.5" rx="1.3" ry="0.9" transform="rotate(-33 880.1 201.5)"/><ellipse cx="903.7" cy="184.7" rx="1.0" ry="0.7" transform="rotate(-31 903.7 184.7)"/><ellipse cx="860.5" cy="198.2" rx="1.5" ry="1.0" transform="rotate(-35 860.5 198.2)"/><ellipse cx="888.3" cy="179.5" rx="1.0" ry="0.7" transform="rotate(-7 888.3 179.5)"/><ellipse cx="883.8" cy="190.8" rx="0.9" ry="0.5" transform="rotate(33 883.8 190.8)"/><ellipse cx="888.7" cy="193.7" rx="1.2" ry="0.6" transform="rotate(27 888.7 193.7)"/><ellipse cx="831.9" cy="199.8" rx="1.1" ry="0.7" transform="rotate(23 831.9 199.8)"/><ellipse cx="909.3" cy="185.9" rx="1.3" ry="0.8" transform="rotate(16 909.3 185.9)"/><ellipse cx="894.4" cy="192.3" rx="1.7" ry="1.1" transform="rotate(-33 894.4 192.3)"/><ellipse cx="890.0" cy="180.4" rx="0.9" ry="0.7" transform="rotate(34 890.0 180.4)"/><ellipse cx="895.7" cy="183.0" rx="0.7" ry="0.6" transform="rotate(24 895.7 183.0)"/><ellipse cx="890.1" cy="203.2" rx="1.2" ry="0.8" transform="rotate(1 890.1 203.2)"/><ellipse cx="838.4" cy="207.6" rx="1.4" ry="1.0" transform="rotate(-23 838.4 207.6)"/><ellipse cx="852.6" cy="180.6" rx="0.8" ry="0.7" transform="rotate(-4 852.6 180.6)"/><ellipse cx="835.4" cy="204.8" rx="2.3" ry="2.0" transform="rotate(5 835.4 204.8)"/><ellipse cx="871.3" cy="182.3" rx="1.0" ry="0.6" transform="rotate(3 871.3 182.3)"/><ellipse cx="890.6" cy="211.2" rx="1.4" ry="0.9" transform="rotate(-29 890.6 211.2)"/><ellipse cx="896.8" cy="179.5" rx="1.1" ry="0.7" transform="rotate(-25 896.8 179.5)"/><ellipse cx="878.2" cy="179.9" rx="1.0" ry="0.9" transform="rotate(16 878.2 179.9)"/><ellipse cx="918.5" cy="210.2" rx="2.0" ry="1.5" transform="rotate(-27 918.5 210.2)"/><ellipse cx="867.2" cy="184.2" rx="1.4" ry="0.8" transform="rotate(-37 867.2 184.2)"/><ellipse cx="868.7" cy="189.8" rx="1.7" ry="1.5" transform="rotate(29 868.7 189.8)"/><ellipse cx="914.6" cy="198.5" rx="1.5" ry="1.2" transform="rotate(-16 914.6 198.5)"/><ellipse cx="906.7" cy="190.5" rx="0.8" ry="0.5" transform="rotate(14 906.7 190.5)"/><ellipse cx="875.0" cy="181.8" rx="0.9" ry="0.6" transform="rotate(4 875.0 181.8)"/><ellipse cx="878.8" cy="186.4" rx="0.8" ry="0.6" transform="rotate(7 878.8 186.4)"/><ellipse cx="864.0" cy="181.3" rx="0.8" ry="0.5" transform="rotate(29 864.0 181.3)"/><ellipse cx="860.8" cy="186.8" rx="0.7" ry="0.6" transform="rotate(-23 860.8 186.8)"/><ellipse cx="890.8" cy="189.0" rx="1.1" ry="1.0" transform="rotate(10 890.8 189.0)"/><ellipse cx="894.2" cy="184.4" rx="1.0" ry="0.8" transform="rotate(14 894.2 184.4)"/><ellipse cx="902.5" cy="194.1" rx="1.5" ry="0.9" transform="rotate(-38 902.5 194.1)"/><ellipse cx="906.4" cy="196.1" rx="1.9" ry="1.1" transform="rotate(-25 906.4 196.1)"/><ellipse cx="884.1" cy="209.8" rx="0.8" ry="0.5" transform="rotate(-11 884.1 209.8)"/><ellipse cx="879.3" cy="194.9" rx="1.3" ry="0.8" transform="rotate(-40 879.3 194.9)"/><ellipse cx="858.0" cy="198.8" rx="0.8" ry="0.5" transform="rotate(39 858.0 198.8)"/><ellipse cx="872.3" cy="188.1" rx="1.0" ry="0.7" transform="rotate(2 872.3 188.1)"/><ellipse cx="923.8" cy="212.0" rx="0.8" ry="0.6" transform="rotate(22 923.8 212.0)"/><ellipse cx="901.7" cy="209.0" rx="2.3" ry="1.8" transform="rotate(-11 901.7 209.0)"/><ellipse cx="858.8" cy="186.7" rx="0.8" ry="0.5" transform="rotate(30 858.8 186.7)"/><ellipse cx="833.4" cy="184.4" rx="0.9" ry="0.6" transform="rotate(18 833.4 184.4)"/><ellipse cx="850.5" cy="188.2" rx="0.7" ry="0.5" transform="rotate(-19 850.5 188.2)"/><ellipse cx="906.8" cy="199.6" rx="1.9" ry="1.1" transform="rotate(19 906.8 199.6)"/><ellipse cx="885.9" cy="212.2" rx="0.9" ry="0.8" transform="rotate(30 885.9 212.2)"/><ellipse cx="839.7" cy="190.4" rx="0.9" ry="0.7" transform="rotate(30 839.7 190.4)"/><ellipse cx="912.7" cy="200.9" rx="1.1" ry="0.7" transform="rotate(20 912.7 200.9)"/><ellipse cx="871.7" cy="190.2" rx="1.4" ry="0.9" transform="rotate(-3 871.7 190.2)"/><ellipse cx="900.6" cy="205.2" rx="1.4" ry="1.1" transform="rotate(38 900.6 205.2)"/><ellipse cx="885.3" cy="180.8" rx="0.9" ry="0.8" transform="rotate(-35 885.3 180.8)"/><ellipse cx="848.2" cy="193.7" rx="1.0" ry="0.8" transform="rotate(11 848.2 193.7)"/><ellipse cx="869.1" cy="199.4" rx="1.7" ry="1.5" transform="rotate(-23 869.1 199.4)"/><ellipse cx="848.5" cy="179.7" rx="1.1" ry="0.9" transform="rotate(-37 848.5 179.7)"/><ellipse cx="848.4" cy="196.2" rx="1.4" ry="0.8" transform="rotate(-38 848.4 196.2)"/><ellipse cx="839.7" cy="195.6" rx="1.3" ry="0.8" transform="rotate(15 839.7 195.6)"/><ellipse cx="843.4" cy="188.1" rx="1.0" ry="0.6" transform="rotate(-37 843.4 188.1)"/><ellipse cx="916.9" cy="183.5" rx="0.7" ry="0.6" transform="rotate(34 916.9 183.5)"/><ellipse cx="882.2" cy="187.4" rx="1.1" ry="0.7" transform="rotate(-24 882.2 187.4)"/><ellipse cx="903.0" cy="182.6" rx="1.2" ry="1.0" transform="rotate(-36 903.0 182.6)"/><ellipse cx="857.7" cy="202.8" rx="2.0" ry="1.5" transform="rotate(-15 857.7 202.8)"/><ellipse cx="896.0" cy="200.5" rx="1.4" ry="1.1" transform="rotate(-9 896.0 200.5)"/><ellipse cx="877.6" cy="200.5" rx="1.1" ry="0.9" transform="rotate(-19 877.6 200.5)"/><ellipse cx="875.0" cy="197.0" rx="1.5" ry="1.3" transform="rotate(-21 875.0 197.0)"/><ellipse cx="876.9" cy="206.6" rx="1.8" ry="1.0" transform="rotate(-8 876.9 206.6)"/><ellipse cx="874.1" cy="191.3" rx="1.0" ry="0.7" transform="rotate(-13 874.1 191.3)"/><ellipse cx="829.1" cy="191.8" rx="1.0" ry="0.7" transform="rotate(-35 829.1 191.8)"/><ellipse cx="891.8" cy="184.7" rx="0.9" ry="0.6" transform="rotate(-21 891.8 184.7)"/><ellipse cx="869.0" cy="194.7" rx="1.9" ry="1.3" transform="rotate(-2 869.0 194.7)"/><ellipse cx="857.4" cy="183.6" rx="1.1" ry="0.6" transform="rotate(39 857.4 183.6)"/><ellipse cx="852.1" cy="208.5" rx="1.2" ry="0.7" transform="rotate(3 852.1 208.5)"/><ellipse cx="904.7" cy="180.2" rx="0.8" ry="0.6" transform="rotate(-26 904.7 180.2)"/><ellipse cx="836.0" cy="182.0" rx="1.2" ry="1.0" transform="rotate(-7 836.0 182.0)"/><ellipse cx="877.7" cy="189.7" rx="0.9" ry="0.8" transform="rotate(-14 877.7 189.7)"/><ellipse cx="876.3" cy="186.3" rx="0.8" ry="0.6" transform="rotate(18 876.3 186.3)"/><ellipse cx="851.8" cy="183.4" rx="1.3" ry="1.1" transform="rotate(-22 851.8 183.4)"/><ellipse cx="911.8" cy="184.4" rx="1.0" ry="0.8" transform="rotate(30 911.8 184.4)"/><ellipse cx="845.2" cy="191.3" rx="1.2" ry="0.7" transform="rotate(-30 845.2 191.3)"/><ellipse cx="905.5" cy="186.9" rx="1.2" ry="1.0" transform="rotate(-39 905.5 186.9)"/><ellipse cx="830.3" cy="187.7" rx="1.1" ry="0.8" transform="rotate(-17 830.3 187.7)"/><ellipse cx="887.3" cy="204.8" rx="1.1" ry="0.9" transform="rotate(28 887.3 204.8)"/><ellipse cx="913.9" cy="184.2" rx="1.2" ry="1.0" transform="rotate(-29 913.9 184.2)"/><ellipse cx="904.0" cy="212.4" rx="1.4" ry="1.2" transform="rotate(-21 904.0 212.4)"/><ellipse cx="866.1" cy="207.4" rx="0.9" ry="0.7" transform="rotate(27 866.1 207.4)"/><ellipse cx="871.3" cy="178.7" rx="0.7" ry="0.4" transform="rotate(25 871.3 178.7)"/><ellipse cx="843.2" cy="178.5" rx="1.1" ry="0.8" transform="rotate(25 843.2 178.5)"/><ellipse cx="902.2" cy="180.5" rx="1.1" ry="0.8" transform="rotate(-4 902.2 180.5)"/><ellipse cx="856.6" cy="179.7" rx="0.8" ry="0.7" transform="rotate(31 856.6 179.7)"/><ellipse cx="832.3" cy="189.4" rx="1.0" ry="0.7" transform="rotate(37 832.3 189.4)"/><ellipse cx="845.7" cy="212.2" rx="1.6" ry="1.4" transform="rotate(-24 845.7 212.2)"/><ellipse cx="899.4" cy="200.8" rx="1.3" ry="0.8" transform="rotate(21 899.4 200.8)"/><ellipse cx="883.9" cy="188.6" rx="1.0" ry="0.8" transform="rotate(-37 883.9 188.6)"/><ellipse cx="918.1" cy="202.2" rx="2.3" ry="1.5" transform="rotate(16 918.1 202.2)"/><ellipse cx="865.8" cy="196.2" rx="0.8" ry="0.6" transform="rotate(18 865.8 196.2)"/><ellipse cx="852.8" cy="192.6" rx="1.0" ry="0.8" transform="rotate(1 852.8 192.6)"/><ellipse cx="839.1" cy="199.2" rx="1.1" ry="0.8" transform="rotate(7 839.1 199.2)"/><ellipse cx="915.5" cy="209.6" rx="0.7" ry="0.6" transform="rotate(4 915.5 209.6)"/><ellipse cx="863.0" cy="188.7" rx="0.7" ry="0.6" transform="rotate(-38 863.0 188.7)"/></g>
<path d="M963.3,89.4L1034.5,89.4L1035.0,91.8L1034.9,94.2L1034.4,96.7L1034.0,99.1L1034.7,101.5L1034.1,103.9L1034.4,106.4L1034.0,108.8L1034.5,111.2L963.3,111.2Z" fill="#8e8e8e" stroke="#1a1a1a" stroke-width="1.9" stroke-linejoin="round"/>
<path d="M1030.9,101.2h0.47M971.2,104.6h0.65M1022.2,92.8h0.48M985.3,105.2h0.40M1005.9,109.3h0.62M965.3,92.3h0.39M1011.7,102.2h0.53M995.6,98.6h0.56M1008.7,108.1h0.61M1018.7,108.1h0.64M1013.3,91.5h0.59M1022.3,99.0h0.66M977.0,108.6h0.50M1012.6,95.6h0.46M988.4,97.0h0.38M994.8,109.3h0.58M1027.9,105.2h0.64M1032.1,105.1h0.45M981.7,98.7h0.36M980.4,107.6h0.67M987.1,105.4h0.62M1025.0,105.8h0.54M971.9,106.4h0.46M1007.2,97.8h0.54M1030.2,93.9h0.54M1008.8,101.0h0.68M992.4,108.1h0.59M1030.3,92.6h0.42M984.3,107.9h0.35M982.4,104.4h0.70M976.7,99.1h0.59M1011.6,104.9h0.61M981.6,95.7h0.36M1011.6,94.8h0.44M1030.1,103.0h0.56M1009.2,102.1h0.59M985.4,92.1h0.37M965.8,97.7h0.40M972.4,100.2h0.69M1011.3,96.0h0.62M976.8,92.8h0.46M992.5,103.9h0.51M1014.1,92.7h0.68M988.0,106.5h0.36M1020.9,95.2h0.65M1019.2,103.5h0.45M965.5,94.5h0.67M975.5,103.3h0.56M1009.6,94.3h0.40M971.4,109.4h0.48M1009.0,101.6h0.43M969.2,91.2h0.65M973.6,109.0h0.48M1013.7,93.5h0.63M981.8,97.8h0.53M972.3,95.6h0.63M984.1,98.1h0.62M980.0,94.5h0.43M990.8,97.8h0.57M996.7,107.2h0.37M1009.7,106.6h0.43M966.8,99.1h0.39M995.9,104.3h0.38M972.8,99.9h0.41M980.4,99.2h0.39M969.4,97.7h0.51M1028.2,101.3h0.38M979.9,104.9h0.55M1023.7,109.0h0.65M972.3,108.6h0.53M981.0,94.1h0.65M979.2,92.5h0.44M1027.4,99.6h0.61M969.8,99.4h0.46M978.7,103.4h0.48M972.9,109.4h0.52M977.0,91.1h0.58M999.6,91.4h0.51M1014.9,101.0h0.43M998.6,102.3h0.58M974.6,106.0h0.68M1014.9,107.0h0.48M1025.9,94.3h0.43M1005.3,107.8h0.38M979.5,91.6h0.50M974.3,94.5h0.61M1004.3,108.6h0.49M1010.8,91.1h0.68M980.6,99.9h0.53M1029.0,100.2h0.70M1006.9,95.0h0.64M978.5,109.7h0.51M980.1,109.0h0.46M992.4,97.4h0.58M966.4,97.9h0.41M1020.9,90.9h0.56M982.3,99.4h0.55M1013.0,93.5h0.43M973.0,109.0h0.40M974.1,100.7h0.55M1024.8,92.0h0.43M976.1,101.9h0.51M992.5,107.6h0.58M1023.0,108.9h0.44M1028.6,98.6h0.37M1026.7,92.9h0.36M984.4,96.3h0.69M1023.7,98.8h0.54M1022.3,106.1h0.58M999.5,93.1h0.44" stroke="#3a3a3a" stroke-width="1" stroke-linecap="round" fill="none"/>
<path d="M982.0,99.2H1021.2M982.4,100.5H1020.3M982.9,101.8H1022.4" stroke="#bbb" stroke-width="0.8" fill="none"/>
<path d="M963.3,111.2L1024.3,111.2L1023.7,113.6L1024.9,116.0L1024.4,118.4L1023.9,120.8L1024.6,123.2L1024.0,125.5L1023.9,127.9L1024.1,130.3L1024.3,132.7L1024.5,135.1L1024.3,137.5L963.3,137.5Z" fill="#cecece" stroke="#1a1a1a" stroke-width="1.9" stroke-linejoin="round"/>
<path d="M969.0,130.0h0.71M992.0,128.4h0.80M965.4,123.8h0.74M1005.7,127.8h0.49M1020.1,131.0h0.52M989.6,135.0h0.50M988.4,135.1h0.85M978.2,129.8h0.58M1003.1,130.6h0.46M977.6,117.7h0.53M966.9,115.9h0.60M989.1,114.5h0.69M1019.2,126.1h0.58M1005.4,122.9h0.49M992.6,113.1h0.74M974.1,121.3h0.88M1009.0,132.2h0.72M1001.4,129.1h0.88M976.1,130.6h0.55M979.6,131.8h0.70M1013.8,133.1h0.69M976.2,113.0h0.67M1006.7,119.0h0.44M965.1,116.7h0.75M965.0,118.1h0.53M1005.8,135.7h0.41M971.4,134.5h0.88M973.4,120.5h0.66M983.3,122.4h0.64M979.7,114.0h0.44M974.2,114.8h0.71M1005.0,118.8h0.80M1006.9,120.7h0.65M975.7,134.3h0.68M967.8,116.3h0.75M987.0,129.4h0.51M1010.8,131.4h0.45M998.6,117.2h0.75M1011.2,131.1h0.52M970.2,128.2h0.68M972.8,117.2h0.69M971.0,127.5h0.52M979.7,122.6h0.67M1006.6,113.4h0.76M977.6,119.5h0.72M1004.7,127.0h0.85M976.6,119.9h0.73M979.8,116.4h0.51M1009.3,132.0h0.76M1020.1,131.2h0.55M983.0,129.5h0.43M1000.0,114.8h0.42M994.4,116.2h0.87M1015.4,123.5h0.50M971.7,124.5h0.66M985.7,129.4h0.66M1009.5,115.2h0.44M987.1,124.0h0.53M1003.4,117.9h0.56M992.3,129.3h0.79M986.2,123.1h0.86M1018.7,127.1h0.45M991.1,127.5h0.54M967.0,135.6h0.85M972.2,123.6h0.71M982.1,114.3h0.78M1009.3,122.9h0.44M987.5,114.9h0.88M967.8,119.4h0.78M972.6,115.2h0.44M974.3,125.1h0.82M974.6,116.7h0.78M989.4,120.6h0.46M978.8,135.3h0.46M979.8,130.0h0.85M1017.0,123.7h0.88M999.7,119.4h0.63M1006.1,129.8h0.46M976.0,135.0h0.45M1011.7,120.6h0.52M979.5,123.6h0.90M973.4,132.6h0.56M974.8,130.1h0.57M975.6,122.4h0.81M1014.6,126.1h0.41M1008.8,126.8h0.85M1019.7,120.3h0.82M1012.1,118.9h0.58M986.4,120.9h0.59M971.2,118.0h0.85M988.5,127.5h0.84M1008.4,118.4h0.86M1011.2,135.8h0.76M1008.4,131.6h0.53M1002.6,121.6h0.82M972.5,125.3h0.57M1012.1,120.7h0.82M1013.7,133.2h0.47M1018.9,130.0h0.74M1002.4,113.8h0.84M996.4,123.3h0.57M1010.0,130.9h0.83M977.2,120.6h0.52M970.6,120.3h0.41M1010.8,118.0h0.44M968.7,130.0h0.50M991.5,122.1h0.80M1019.8,119.9h0.72M1016.4,123.7h0.85M1007.1,120.0h0.84M997.9,115.2h0.69M1012.6,124.8h0.64M988.8,133.2h0.73M976.8,121.1h0.58M1020.1,128.9h0.46M1017.6,113.5h0.70M989.7,129.4h0.61M970.1,124.9h0.81M1010.3,121.0h0.51M1007.8,131.4h0.51" stroke="#4a4a4a" stroke-width="1" stroke-linecap="round" fill="none"/>
<path d="M972.6,124.7H1010.0M971.3,126.0H1011.9M972.1,127.3H1010.2" stroke="#999" stroke-width="0.8" fill="none"/>
<path d="M963.3,137.5L1034.0,137.5L1033.6,139.9L1033.7,142.4L1033.8,144.8L1034.3,147.3L1033.6,149.8L1034.0,152.2L963.3,152.2Z" fill="#8a8a8a" stroke="#1a1a1a" stroke-width="1.9" stroke-linejoin="round"/>
<path d="M999.4,145.0q2.0,-1.1 4.9,0.8M1000.2,147.1q1.3,1.2 4.1,0.4M1019.0,144.0q2.4,-0.9 3.0,0.0M1020.8,147.8q2.4,0.0 4.9,0.1M974.8,145.9q2.2,-0.2 4.2,-0.4M982.8,144.4q1.8,-0.1 3.2,-0.8M986.8,146.5q2.1,-0.8 3.5,0.0M976.7,145.7q2.4,-0.9 4.2,0.4M1011.7,146.5q2.1,-0.7 4.7,0.7M969.2,148.1q1.7,-1.2 3.1,0.5M1007.3,142.5q1.7,0.4 5.0,-0.3M1012.8,143.2q1.3,-1.0 3.8,0.2M984.5,142.6q1.3,-1.2 3.4,-0.3M996.8,142.8q1.7,-0.2 4.9,-0.0M1023.6,144.8q1.3,0.3 3.3,-0.5M970.5,146.4q2.5,-0.3 3.7,-0.1M987.5,146.3q1.6,-1.0 4.7,0.1M966.4,147.4q2.1,-0.4 4.3,0.7M990.5,144.5q1.4,0.2 4.3,0.4M1023.9,142.5q1.5,1.1 4.6,0.1M1007.3,143.9q2.4,0.1 3.8,-0.5M973.0,147.8q2.2,-1.4 3.6,-0.0M996.2,144.0q2.3,-0.5 4.1,0.7M1005.0,144.8q1.5,-0.3 4.2,0.5M981.9,144.1q1.6,-0.4 4.8,0.1M982.8,143.8q2.2,-1.0 4.4,-0.8M977.8,141.9q2.2,-1.1 3.5,-0.7M982.1,146.6q2.1,1.2 4.9,0.1M1022.2,142.1q2.4,-0.2 3.4,0.4M1018.4,144.2q1.1,1.1 4.5,0.2M1025.6,141.8q1.1,-1.1 3.0,0.3M1004.4,142.3q1.2,-1.0 4.2,0.3M1025.1,144.0q2.5,-0.2 3.8,-0.4M980.2,148.3q2.5,0.6 3.4,-0.5M975.3,144.0q2.1,-1.3 4.1,0.3M968.0,144.6q2.2,0.2 3.9,0.6M1002.7,143.9q1.6,1.3 4.7,0.7M1000.2,142.5q1.3,-0.4 4.4,-0.8M1014.9,147.0q1.8,-1.5 4.6,-0.1M1006.8,145.5q2.1,-0.3 4.9,0.7M1022.7,145.8q1.5,-0.4 3.5,0.6M1014.3,147.0q2.2,1.5 4.4,-0.3M1012.2,143.3q1.9,-1.0 4.7,-0.0M982.8,148.0q1.1,1.3 4.5,-0.6M1012.4,145.5q2.4,0.3 3.9,0.7M971.3,146.9q1.2,-0.7 3.2,0.6M992.9,146.6q1.4,0.7 4.3,-0.6M996.1,146.6q1.3,0.5 3.6,-0.2M1022.1,148.1q2.5,-0.2 4.1,0.5M1012.3,144.7q2.3,-0.3 4.9,-0.0M973.2,146.7q1.2,0.5 3.1,0.8M999.0,146.7q1.2,0.4 3.8,-0.4M1015.7,141.7q1.7,-1.2 4.7,0.6M968.1,144.8q1.7,0.7 4.5,-0.3M1022.9,142.8q1.2,0.9 3.2,-0.5M996.5,143.9q1.2,1.3 3.9,0.5M981.3,147.9q1.3,1.2 4.2,0.8M1013.0,145.9q1.8,1.1 3.9,-0.6M1021.7,147.1q2.0,0.7 3.5,-0.1M1016.2,148.2q2.4,-1.0 4.4,0.1M990.7,142.7q1.2,-0.1 4.0,-0.4M988.4,145.4q2.1,0.3 3.3,0.6M988.4,148.2q2.5,-1.1 4.2,0.7M989.5,145.3q1.5,-1.4 3.4,-0.6M983.3,145.9q1.8,1.3 4.4,-0.2M1023.9,145.9q1.8,1.1 4.3,-0.2M1002.9,143.6q2.5,-0.8 4.9,-0.7M966.6,145.4q1.3,0.0 3.2,0.5M1006.8,146.3q2.4,1.5 4.4,0.3M966.1,141.8q1.6,1.4 3.6,0.1M966.5,144.4q2.4,0.3 4.6,-0.8M978.4,142.8q2.2,-1.2 4.9,-0.4M1019.7,145.1q1.5,1.4 3.8,0.3M970.1,147.3q2.5,-1.2 4.5,-0.4M975.0,144.0q2.0,1.4 5.0,0.8M1004.0,146.1q1.2,0.7 4.1,-0.2M1020.9,143.3q1.2,-1.0 3.3,0.1M1014.9,142.6q1.8,0.2 4.1,-0.1M999.2,141.6q1.1,-0.2 3.5,0.4M980.8,147.3q1.4,-1.2 4.0,-0.2M986.5,146.9q1.3,0.5 4.7,-0.1M996.7,148.0q1.9,-1.0 3.1,-0.7M986.2,142.1q2.0,-0.2 3.6,0.0M1023.1,143.2q1.2,-0.6 3.6,0.7M1009.1,144.5q1.2,-1.4 3.2,0.6M1005.5,142.6q1.9,-1.3 4.0,-0.3M972.2,146.7q2.1,0.0 3.3,0.3M992.4,146.1q1.1,1.2 3.0,-0.4M990.3,142.9q1.1,0.6 5.0,-0.3M982.2,146.2q1.3,-0.3 4.4,-0.1" stroke="#3a3a3a" stroke-width="0.6" fill="none"/>
<path d="M963.3,152.2L1026.0,152.2L1025.5,154.4L1025.4,156.7L1026.1,158.9L1026.7,161.2L1026.6,163.4L1025.4,165.7L1026.0,167.9L1026.0,170.2L1025.6,172.4L1026.2,174.7L1026.0,176.9L1026.4,179.2L1025.7,181.4L1026.0,183.7L963.3,183.7Z" fill="#cecece" stroke="#1a1a1a" stroke-width="1.9" stroke-linejoin="round"/>
<path d="M1019.6,176.9h0.64M973.1,167.5h0.46M1005.1,173.6h0.69M1022.1,155.0h0.76M1011.8,156.9h0.56M968.0,170.3h0.76M985.2,173.5h0.58M1006.6,161.6h0.89M990.5,153.8h0.45M1007.4,178.3h0.72M973.9,178.6h0.76M971.6,164.5h0.74M965.0,154.9h0.58M1016.1,182.1h0.56M1018.2,176.1h0.83M999.3,181.3h0.72M1020.4,169.8h0.50M995.2,167.5h0.57M986.7,168.2h0.69M977.9,161.6h0.65M994.4,165.6h0.73M975.7,168.9h0.54M1010.0,173.8h0.79M995.2,160.8h0.86M994.8,164.4h0.55M988.4,173.9h0.81M993.1,174.5h0.51M991.3,163.9h0.55M985.9,175.2h0.77M977.0,160.4h0.79M1003.2,173.0h0.72M1005.5,161.5h0.43M986.0,154.6h0.88M995.6,172.8h0.88M1012.0,160.2h0.57M971.2,176.4h0.77M993.4,164.2h0.53M993.4,174.0h0.85M1014.6,178.4h0.62M989.5,162.7h0.89M975.6,158.2h0.54M1018.9,178.0h0.57M1014.8,179.1h0.61M976.1,175.7h0.59M971.8,179.4h0.62M988.1,170.7h0.53M966.0,164.8h0.59M965.5,164.3h0.78M984.3,173.1h0.71M975.9,154.3h0.74M1000.7,162.1h0.50M1015.0,179.6h0.52M999.2,170.1h0.56M966.9,163.0h0.72M1000.1,168.2h0.46M977.3,162.6h0.61M986.1,179.4h0.46M1022.7,160.6h0.83M979.1,170.4h0.59M967.0,176.4h0.81M980.6,175.8h0.64M1022.7,155.2h0.59M978.2,171.5h0.79M1014.2,169.3h0.59M1011.7,156.7h0.53M1009.0,166.3h0.90M970.1,166.9h0.51M964.9,156.4h0.45M986.5,166.0h0.65M981.8,173.7h0.66M1022.4,158.5h0.66M993.8,164.3h0.83M977.1,178.7h0.58M984.5,171.2h0.68M981.5,156.1h0.88M986.5,157.0h0.73M996.0,163.0h0.56M1014.4,163.4h0.61M1021.0,164.0h0.60M974.3,172.6h0.73M991.0,165.3h0.52M1011.2,166.7h0.82M986.8,174.6h0.41M977.7,181.1h0.74M1004.5,167.9h0.64M976.4,158.6h0.72M1005.5,161.1h0.72M972.8,171.2h0.49M994.7,162.6h0.68M972.7,167.5h0.71M972.7,162.5h0.74M996.9,171.3h0.79M998.3,160.0h0.62M1013.5,169.9h0.78M986.2,166.5h0.88M1013.1,172.3h0.45M1000.7,154.6h0.87M1021.9,174.5h0.53M1014.4,158.8h0.81M995.4,154.1h0.85M990.6,177.4h0.74M996.1,178.3h0.50M1017.5,163.4h0.41M984.6,155.6h0.44M1001.4,157.1h0.48M982.0,161.6h0.86M1017.9,178.5h0.89M990.6,176.4h0.54M1019.2,176.8h0.77M978.2,156.3h0.86M997.2,171.2h0.83M973.2,173.6h0.63M1010.9,166.7h0.50M1020.9,161.7h0.77M1013.6,160.8h0.75M988.1,160.1h0.51M1020.8,164.2h0.65M994.2,154.5h0.78M1008.5,178.7h0.58M977.1,163.6h0.77M1003.4,165.3h0.66M973.8,179.9h0.64M994.5,176.1h0.50M1007.2,163.8h0.81M970.3,161.6h0.72M993.1,164.4h0.69M977.6,166.2h0.40M1011.7,160.9h0.82M997.2,170.8h0.71M972.2,175.9h0.55M1015.4,176.1h0.74M1012.7,166.1h0.74M1020.7,159.1h0.45M989.0,168.2h0.47M977.8,178.4h0.59M973.5,158.9h0.69M976.0,167.2h0.67M990.6,168.1h0.82M965.8,180.2h0.50M967.0,175.6h0.68M996.4,159.9h0.79M982.8,174.4h0.51M998.4,172.2h0.59M993.0,155.6h0.72M1005.4,158.1h0.68M1007.8,156.6h0.82M1015.9,155.1h0.52M969.7,160.9h0.44M993.5,160.8h0.55M991.9,164.3h0.79M1007.2,157.0h0.51M965.3,163.1h0.45M1005.7,175.9h0.90M977.1,154.7h0.78M989.0,180.2h0.60M983.1,155.8h0.87M994.9,166.3h0.62M1009.9,177.4h0.64M975.3,165.3h0.85M988.7,172.5h0.68M991.9,170.1h0.52M997.5,178.3h0.44M986.5,178.8h0.89M965.6,171.6h0.72M1014.3,167.1h0.47M982.4,174.0h0.76M976.8,172.0h0.73M1003.4,154.3h0.62M983.9,170.7h0.57M972.3,172.8h0.54M1011.2,162.4h0.67M1012.2,157.0h0.77M968.8,180.4h0.41M1007.3,164.2h0.49M988.0,168.0h0.61M972.0,168.6h0.55M1021.6,164.6h0.62M978.2,181.3h0.56M1002.7,177.4h0.60M1009.1,161.6h0.45M967.3,166.5h0.84M976.7,166.3h0.78M981.0,158.1h0.66M989.8,180.4h0.85M978.8,169.7h0.61M966.8,166.4h0.86M982.6,170.4h0.76M968.5,180.0h0.45M982.5,174.1h0.41M986.8,157.3h0.64M965.7,158.0h0.51M969.6,156.3h0.50M995.2,157.6h0.81M989.3,160.9h0.52M1014.1,155.0h0.77M970.5,180.6h0.60M999.9,178.3h0.45M968.6,173.5h0.69M1007.1,161.6h0.65M975.8,166.2h0.54" stroke="#4a4a4a" stroke-width="1" stroke-linecap="round" fill="none"/>
<path d="M963.3,167H1026" stroke="#555" stroke-width="0.8"/>
<path d="M997.0,171.8q1.4,0.4 3.2,0.5M992.3,171.4q1.2,0.0 4.0,0.4M985.8,172.4q2.3,-0.7 5.0,0.6M1018.5,175.0q1.4,0.9 4.2,-0.5M1018.9,173.5q2.2,0.2 3.2,0.6M975.3,171.6q1.9,-0.9 3.9,0.3M971.1,173.6q1.2,-0.1 4.3,0.3M968.3,171.3q2.4,-0.3 3.8,-0.2M1002.9,174.0q2.0,-0.3 4.1,0.0M976.0,175.0q2.4,0.8 5.0,-0.1M1010.5,171.5q2.1,0.6 4.9,0.5M1012.6,171.6q2.2,-0.1 3.6,-0.2M1008.3,174.5q2.3,0.5 3.3,-0.6M996.1,171.4q1.5,-1.2 3.3,0.3M977.9,174.5q1.5,1.0 3.6,-0.4M986.9,170.4q1.7,-0.4 3.0,0.6M985.9,170.3q2.4,-0.8 3.5,-0.8M971.3,173.8q1.9,0.0 3.5,-0.3M1017.4,172.2q2.5,1.2 3.2,0.6M967.1,173.9q2.2,0.6 4.1,0.5M974.2,173.0q1.4,-0.3 3.4,0.3M996.4,174.2q1.9,0.3 4.8,0.5M996.0,171.9q2.4,-0.4 3.2,-0.3M1003.4,175.0q2.0,0.5 4.9,0.4M989.6,172.6q2.1,-0.5 3.2,0.2M1008.9,171.5q2.0,1.2 3.3,-0.6M992.1,172.0q2.4,1.5 3.9,0.5M999.5,171.2q2.5,-1.0 3.2,-0.1M966.9,172.7q1.6,1.4 3.8,0.6M1007.3,173.2q1.4,-0.6 4.0,-0.2M1000.2,172.8q1.5,0.3 5.0,-0.5M983.8,170.4q1.1,-1.3 3.8,0.5M1003.0,175.1q2.3,0.3 4.2,-0.8M986.3,171.6q1.9,-1.3 4.1,-0.2M992.1,172.3q1.2,0.7 4.6,0.2M972.1,173.3q2.3,1.5 4.5,-0.7M1012.6,173.6q1.4,1.3 4.7,0.6M979.1,173.2q1.6,-0.6 4.5,0.2M983.6,173.0q2.4,0.2 4.8,0.1M1018.6,170.4q1.7,0.2 4.5,0.7M999.0,172.7q2.0,0.1 4.4,0.7M966.7,171.9q2.3,-1.3 4.6,-0.8M1000.4,174.3q1.4,-0.4 3.5,0.3M994.0,173.3q1.5,0.3 4.9,0.4M1016.4,171.5q1.8,-0.3 3.7,0.5M975.3,173.1q2.2,1.3 3.0,-0.4M992.1,175.0q1.2,1.0 3.8,0.1M1015.2,170.6q1.5,-1.0 3.3,-0.3M1003.1,173.2q1.2,0.9 4.0,-0.6M1009.5,174.4q1.3,1.3 4.6,-0.4M966.1,174.6q2.2,-1.2 4.5,0.4M999.6,174.5q2.5,-0.5 4.7,0.7M982.6,173.7q2.0,1.0 4.1,-0.4M979.3,173.0q1.2,1.1 4.8,-0.4M1003.0,173.7q1.2,0.8 4.5,-0.3M971.2,171.7q2.2,-0.1 4.6,-0.5M971.6,172.0q2.3,-1.0 3.1,0.4M970.8,173.6q1.1,-0.8 4.3,0.6M987.7,172.5q1.0,-0.5 3.5,0.5M1003.9,174.2q1.8,0.6 3.3,-0.2M981.5,171.7q2.1,-0.9 3.7,-0.3M1011.8,173.5q1.7,-0.4 4.8,0.7M989.8,173.1q2.3,-0.7 3.5,-0.6M992.6,174.1q1.2,-0.2 5.0,-0.0M986.3,174.5q2.3,-0.4 3.2,0.2M1005.2,174.9q2.0,-0.6 4.0,-0.3M989.6,172.6q2.4,1.2 4.9,-0.0M1017.1,171.0q2.4,0.4 4.7,-0.1M1018.5,170.4q2.3,1.0 3.7,0.5M977.3,174.1q1.7,-0.3 3.4,0.5" stroke="#4a4a4a" stroke-width="0.6" fill="none"/>
<path d="M963.3,183.7L1032.6,183.7L1032.9,186.0L1032.0,188.3L1033.3,190.6L1032.2,192.9L1032.4,195.2L1032.6,197.5L963.3,197.5Z" fill="#8e8e8e" stroke="#1a1a1a" stroke-width="1.9" stroke-linejoin="round"/>
<path d="M992.0,191.4h0.66M1026.9,192.0h0.48M971.9,185.9h0.53M1003.1,190.0h0.69M992.0,189.0h0.50M976.1,195.3h0.56M1000.5,189.8h0.44M985.5,190.5h0.51M1029.1,191.3h0.42M968.3,186.9h0.47M1016.2,194.8h0.43M1016.1,190.0h0.54M999.8,185.7h0.37M1008.7,192.6h0.48M1025.2,194.1h0.46M969.2,191.2h0.58M979.5,185.7h0.52M967.0,193.2h0.57M983.1,190.0h0.43M977.0,187.2h0.64M994.6,192.9h0.47M1017.8,191.6h0.58M990.6,191.3h0.42M1028.8,192.5h0.54M1006.8,186.3h0.47M980.0,194.3h0.35M994.0,194.6h0.62M1012.0,188.5h0.43M1011.1,188.4h0.60M987.8,193.4h0.55M1018.4,195.8h0.48M1029.6,185.3h0.66M966.8,191.1h0.49M1015.4,188.6h0.42M1016.3,191.1h0.61M996.9,185.6h0.62M979.1,190.3h0.35M981.8,192.4h0.62M1006.6,190.0h0.61M1008.7,187.4h0.54M1004.1,193.1h0.42M985.2,188.9h0.38M987.7,193.1h0.55M976.2,193.1h0.39M1014.2,186.8h0.38M981.3,190.8h0.44M1022.9,195.3h0.45M1014.1,192.7h0.55M981.5,195.5h0.68M965.7,188.8h0.46M977.8,189.8h0.66M966.4,194.2h0.46M965.7,194.9h0.45M978.7,186.5h0.48M972.7,187.1h0.44M1002.8,190.0h0.46M999.4,193.6h0.60M987.4,195.1h0.63M1001.7,190.3h0.47M973.6,194.8h0.56M971.3,195.2h0.66M967.0,192.8h0.43M1000.0,194.2h0.47M997.5,192.4h0.42M1006.0,189.8h0.69M977.1,192.9h0.36M982.8,186.5h0.40M999.5,187.1h0.63M971.1,191.9h0.65M973.1,187.5h0.62" stroke="#3a3a3a" stroke-width="1" stroke-linecap="round" fill="none"/>
<path d="M983.4,189.7H1022.2M983.0,191.0H1023.8M984.9,192.3H1024.0" stroke="#bbb" stroke-width="0.8" fill="none"/>
<path d="M824.4,252.1L924.8,252.1L925.5,254.4L925.3,256.7L924.4,259.0L924.9,261.3L925.4,263.6L924.3,265.9L925.3,268.3L925.2,270.6L925.1,272.9L924.9,275.2L924.2,277.5L925.4,279.8L924.8,282.1L824.4,282.1Z" fill="#848484" stroke="#1a1a1a" stroke-width="1.9" stroke-linejoin="round"/>
<path d="M835.8,265.3h0.60M856.6,263.8h0.49M898.4,254.2h0.68M863.0,265.6h0.52M904.4,258.1h0.54M828.3,260.9h0.38M908.9,263.7h0.50M920.0,267.7h0.68M833.9,264.1h0.60M884.4,253.8h0.67M868.3,262.5h0.64M852.5,254.0h0.67M852.0,254.2h0.40M922.0,264.6h0.42M840.1,267.0h0.58M882.2,255.6h0.49M917.3,253.6h0.50M831.4,268.5h0.39M918.0,266.1h0.61M830.0,264.0h0.52M873.4,255.8h0.53M903.4,255.6h0.66M866.5,257.6h0.43M870.3,263.2h0.55M911.9,261.2h0.53M921.4,256.8h0.36M857.6,258.3h0.39M866.3,254.1h0.67M872.7,266.7h0.59M896.4,264.9h0.46M896.3,256.7h0.54M883.4,265.2h0.41M859.1,265.9h0.63M920.4,255.4h0.42M836.2,264.4h0.61M888.5,265.2h0.53M880.2,267.3h0.58M889.3,262.4h0.52M899.0,262.1h0.40M867.0,259.9h0.50M880.1,259.0h0.49M867.1,259.1h0.69M834.6,253.9h0.60M864.1,260.3h0.56M861.4,257.2h0.36M910.3,267.6h0.45M870.8,258.4h0.37M912.1,266.1h0.43M850.5,264.0h0.63M871.3,259.4h0.43M903.0,266.5h0.65M836.9,262.4h0.69M895.0,260.4h0.40M831.7,264.5h0.37M904.0,263.5h0.52M912.0,267.5h0.57M835.5,262.4h0.50M850.0,267.4h0.61M837.7,257.0h0.47M881.2,258.4h0.50M904.5,256.3h0.60M857.8,267.7h0.68M857.5,262.6h0.39M865.5,262.9h0.57M859.0,254.1h0.39M880.0,256.1h0.46M885.6,267.0h0.53M850.5,262.3h0.45M901.5,255.9h0.44M868.3,267.1h0.41M844.5,255.6h0.42M858.0,259.5h0.62M864.9,260.7h0.49M900.7,267.1h0.50M914.9,257.3h0.69M876.6,263.8h0.48M852.1,255.6h0.66M860.6,264.0h0.51M876.8,256.7h0.41M858.4,263.8h0.54M826.1,264.2h0.50M832.6,257.5h0.42M905.4,261.8h0.46M849.9,257.9h0.45M859.4,265.4h0.63M893.3,266.8h0.58M836.9,254.3h0.41M850.8,261.5h0.64M882.5,260.0h0.43M920.7,264.8h0.47M830.3,268.2h0.44M907.8,255.3h0.58M860.3,266.8h0.45M835.6,256.6h0.63M920.4,263.2h0.59M853.2,257.7h0.38M921.0,254.2h0.56M859.7,256.4h0.50M915.8,257.3h0.41M886.7,263.4h0.53M843.3,266.6h0.39M842.7,257.2h0.53M871.9,261.8h0.60M912.3,260.6h0.36M906.2,253.9h0.46M839.7,262.6h0.62M838.3,258.0h0.65M892.5,255.2h0.59M902.6,259.7h0.40M889.6,258.4h0.40" stroke="#555" stroke-width="1" stroke-linecap="round" fill="none"/>
<path d="M830.0,266.9Q840.2,275.6 852.8,268.7M852.8,268.7Q863.0,275.6 875.5,266.9M875.5,266.9Q885.7,275.6 898.2,268.7M898.2,268.7Q908.5,275.6 921.0,266.9M842.5,264.8Q851.6,272.0 864.1,264.0M865.3,264.8Q874.4,272.0 886.9,264.0M888.0,264.8Q897.1,272.0 909.6,264.0M864.1,262.2Q875.5,267.6 889.1,259.4" stroke="#333" stroke-width="0.8" fill="none"/>
<path d="M824.4,282.1L905.5,282.1L905.2,284.4L905.4,286.6L905.2,288.9L905.5,291.2L824.4,291.2Z" fill="#c9c9bd" stroke="#1a1a1a" stroke-width="1.2" stroke-linejoin="round"/>
<path d="M831.2,285.0H896.3M831.7,286.5H896.8M832.4,288.0H897.7" stroke="#8a8a78" stroke-width="0.7" fill="none"/>
<path d="M824.4,291.2L924.4,291.2L924.2,293.5L925.0,295.7L924.9,298.0L925.0,300.3L924.8,302.6L924.5,304.8L924.8,307.1L924.5,309.4L923.9,311.6L924.1,313.9L923.8,316.2L924.9,318.5L924.2,320.7L924.4,323.0L824.4,323Z" fill="#5c5c5c" stroke="#1a1a1a" stroke-width="1.9" stroke-linejoin="round"/>
<path d="M832.0,306.9Q841.9,316.0 854.0,308.8M854.0,308.8Q863.9,316.0 876.0,306.9M876.0,306.9Q885.9,316.0 898.0,308.8M898.0,308.8Q907.9,316.0 920.0,306.9M844.1,304.6Q852.9,312.2 865.0,303.8M866.1,304.6Q874.9,312.2 887.0,303.8M888.1,304.6Q896.9,312.2 909.0,303.8M865.0,301.9Q876.0,307.6 889.2,298.9" stroke="#262626" stroke-width="0.8" fill="none"/>
<path d="M824.4,324.1L893.0,324.1L892.9,326.6L893.0,329.0L892.7,331.4L893.0,333.9L824.4,333.9Z" fill="#c4c4b6" stroke="#1a1a1a" stroke-width="1.2" stroke-linejoin="round"/>
<path d="M868.9,330.2q2.2,1.1 3.6,-0.6M872.2,329.8q1.6,-0.5 3.3,0.5M854.7,330.2q1.5,-0.5 4.0,0.4M879.2,328.4q2.0,-0.3 4.7,0.4M860.2,328.5q1.4,1.2 4.6,-0.3M832.9,327.8q2.4,-1.4 4.6,0.0M860.1,329.2q1.6,0.2 3.2,0.7M834.0,327.6q2.0,0.4 4.6,0.3M882.0,327.2q1.0,-0.8 4.6,-0.6M858.8,330.1q1.2,0.1 4.8,0.4M851.1,328.9q1.4,1.4 4.6,0.3M845.6,329.9q1.7,0.9 3.7,0.6M867.7,328.8q1.8,0.9 4.1,0.7M828.4,330.6q2.1,-0.0 4.7,-0.6M847.6,329.9q2.2,-0.4 5.0,0.2M830.6,327.5q1.1,0.2 3.6,-0.4M854.0,327.3q2.4,1.0 4.1,-0.1M845.9,329.4q1.5,1.4 4.9,0.4M875.9,327.3q1.2,-0.5 3.3,-0.1M885.2,330.3q2.4,-0.8 3.4,-0.8M843.9,327.2q1.8,-0.6 4.3,0.1M862.6,328.2q2.1,0.6 4.4,-0.0M854.9,328.1q1.1,-0.1 4.2,-0.5M877.9,330.5q2.3,0.9 4.0,-0.5M843.7,330.0q2.5,-1.2 3.0,-0.2M848.3,329.4q1.2,1.0 3.7,0.7M847.1,328.2q1.3,1.4 4.2,0.5M831.7,329.2q2.1,1.5 4.9,-0.6M849.6,331.0q1.8,1.4 3.5,-0.8M882.9,328.1q1.8,-0.4 4.2,0.7M882.9,330.5q1.4,1.0 3.0,-0.1M882.8,328.0q1.6,0.2 3.5,0.3M865.8,327.4q2.4,-1.3 4.4,-0.2M836.3,327.3q2.5,0.9 3.9,0.5M884.2,330.7q1.8,-0.7 4.0,0.8M870.4,329.7q2.3,-0.3 4.1,0.6M839.6,330.4q1.0,0.1 4.1,-0.6M881.5,328.8q1.3,-0.3 4.2,-0.1M828.2,327.4q2.1,-1.1 3.5,0.5M878.0,330.5q1.3,-1.5 4.5,0.2M849.1,327.1q1.6,-0.8 4.2,0.8M840.1,327.3q2.0,-1.2 3.4,-0.1M885.2,328.3q1.5,-0.1 3.3,-0.2M868.6,328.3q2.2,-0.9 3.2,0.2M854.3,330.7q1.2,0.7 4.3,-0.2" stroke="#555" stroke-width="0.6" fill="none"/>
<path d="M824.4,334.4L915.3,334.4L914.9,336.7L915.4,338.9L915.6,341.2L915.3,343.4L915.3,345.7L824.4,345.7Z" fill="#858585" stroke="#1a1a1a" stroke-width="1.9" stroke-linejoin="round"/>
<path d="M836.0,336.8Q847.4,342.1 861.3,337.9M861.3,337.9Q872.7,342.1 886.7,336.8M886.7,336.8Q898.1,342.1 912.0,337.9" stroke="#3a3a3a" stroke-width="0.7" fill="none"/>
<path d="M824.4,345.7L892.5,345.7L892.5,348.1L892.6,350.4L892.6,352.8L892.4,355.1L892.2,357.4L892.5,359.8L824.4,359.8Z" fill="#c4c4b6" stroke="#1a1a1a" stroke-width="1.2" stroke-linejoin="round"/>
<path d="M854.9,352.7q2.3,1.5 4.1,-0.3M840.9,353.2q2.1,-0.8 4.4,0.8M850.7,354.7q1.7,0.5 4.7,-0.5M848.0,354.9q1.1,-0.6 4.0,0.4M864.6,354.6q2.0,-1.5 3.1,-0.7M853.0,350.1q1.8,0.4 3.4,0.6M852.0,354.8q1.5,0.4 4.1,-0.4M873.2,350.0q1.4,-0.5 4.8,0.0M830.1,351.5q1.9,0.9 3.2,0.4M850.7,352.6q1.6,-0.2 5.0,0.7M881.2,353.7q2.1,-1.1 3.1,0.5M867.0,353.2q1.5,-0.7 4.8,0.1M829.1,351.7q1.5,-1.3 5.0,0.6M875.3,350.0q1.6,-1.2 4.5,0.5M873.8,354.0q1.2,-1.5 3.2,0.5M876.1,352.6q1.4,1.1 3.2,-0.3M828.1,354.9q1.6,0.8 4.6,0.1M885.2,353.9q2.4,1.4 3.2,0.4M841.1,351.6q1.5,1.5 3.1,-0.1M835.4,355.0q1.7,0.6 4.0,0.4M847.5,352.1q2.1,0.6 4.8,-0.3M877.2,353.7q1.9,-0.3 4.1,-0.7M833.6,351.6q1.2,-1.4 4.4,0.4M863.7,351.0q2.1,1.0 4.2,-0.4M860.7,352.0q1.4,-1.1 4.7,0.2M882.1,350.9q1.4,0.0 3.1,-0.3M859.3,352.4q2.4,0.2 4.3,0.1M873.5,351.8q1.0,1.4 4.6,-0.6M834.5,351.1q2.0,-1.1 3.0,-0.0M828.4,351.3q1.6,-0.9 3.0,-0.4M842.1,351.6q1.6,-0.4 3.6,-0.8M876.6,353.7q1.7,-1.5 3.5,0.6M854.5,351.0q2.2,1.2 3.2,0.0M860.6,350.6q1.5,0.4 4.3,0.2M864.0,351.9q1.1,-1.5 4.7,0.6M880.5,350.4q2.2,-1.0 3.7,-0.5M877.9,354.1q2.2,-0.4 4.9,-0.4M861.3,353.4q1.4,-0.4 3.2,0.5M838.7,350.7q1.4,0.4 4.3,0.0M877.5,353.8q1.3,0.1 3.3,-0.4M836.5,350.4q1.5,1.2 4.3,-0.7M840.7,353.0q1.8,-1.4 3.2,0.1M862.9,350.4q2.2,-0.8 4.2,0.0M847.7,354.7q1.6,-0.2 4.1,0.5M885.3,353.8q1.8,0.7 4.3,0.7M884.3,353.8q1.3,0.2 3.9,-0.4M873.3,351.1q2.1,-0.0 3.9,0.3M870.0,354.9q2.5,0.9 3.5,0.3M856.7,354.7q1.7,-0.4 3.1,-0.0M858.9,351.5q1.2,-0.0 3.1,-0.5M853.8,351.7q1.8,0.1 3.8,-0.6M829.1,352.8q2.5,-0.7 3.7,-0.3M871.1,352.5q2.2,-1.5 3.3,-0.5M849.4,352.0q1.6,1.4 3.9,0.1M883.9,353.2q1.9,1.0 3.7,-0.7" stroke="#555" stroke-width="0.6" fill="none"/>
<path d="M824.4,359.8L916.9,359.8L917.5,362.1L916.9,364.3L917.0,366.6L916.3,368.9L917.2,371.2L916.7,373.4L917.1,375.7L916.6,378.0L917.5,380.2L916.7,382.5L916.6,384.8L917.5,387.1L916.5,389.3L916.9,391.6L824.4,391.6Z" fill="#555555" stroke="#1a1a1a" stroke-width="1.9" stroke-linejoin="round"/>
<path d="M849.9,375.3h0.69M836.1,367.4h0.63M832.6,373.2h0.62M889.0,384.1h0.39M904.7,371.6h0.63M867.7,387.0h0.52M848.7,365.6h0.52M830.3,366.0h0.66M876.7,386.2h0.40M868.5,374.8h0.39M849.2,387.8h0.60M871.0,378.9h0.65M910.4,378.4h0.37M903.1,366.0h0.43M838.0,376.1h0.55M866.7,374.8h0.40M889.5,376.8h0.46M899.8,388.3h0.67M913.2,363.3h0.49M865.8,368.7h0.61M906.1,365.3h0.53M911.6,386.9h0.51M835.2,374.4h0.53M895.5,366.7h0.45M913.1,361.6h0.56M834.3,382.9h0.50M907.9,367.7h0.66M846.1,362.7h0.38M832.6,372.5h0.69M857.3,381.9h0.36M871.6,376.8h0.38M877.3,374.1h0.46M899.5,381.2h0.39M835.3,362.8h0.44M882.3,389.2h0.69M902.5,364.9h0.63M893.4,374.9h0.70M879.0,364.7h0.43M837.4,378.9h0.57M901.9,361.6h0.35M912.1,368.9h0.44M902.7,364.5h0.63M905.4,377.5h0.56M826.4,378.8h0.56M894.2,376.2h0.39M845.6,380.1h0.38M835.4,368.5h0.63M874.3,371.6h0.69M877.4,368.2h0.55M901.7,371.9h0.50M877.1,389.7h0.57M842.0,378.1h0.46M867.8,381.8h0.36M870.9,370.3h0.56M898.6,374.8h0.57M851.5,368.7h0.53M873.1,367.7h0.62M870.2,371.5h0.44M900.0,387.3h0.68M847.9,363.4h0.57" stroke="#6a6a6a" stroke-width="1" stroke-linecap="round" fill="none"/>
<path d="M963.8,251.8L1005.3,251.8L1004.8,254.1L1005.7,256.4L1005.5,258.7L1005.1,261.0L1005.2,263.3L1005.5,265.6L1005.0,267.9L1005.2,270.2L1005.6,272.5L1005.5,274.8L1005.4,277.1L1004.9,279.4L1005.3,281.7L963.8,281.7Z" fill="#cecece" stroke="#1a1a1a" stroke-width="1.6" stroke-linejoin="round"/>
<path d="M969.5,256.3h0.6M971.7,256.3h0.6M983.5,256.3h0.6M985.7,256.3h0.6M997.5,256.3h0.6M999.7,256.3h0.6M976.5,264.1h0.6M978.7,264.1h0.6M990.5,264.1h0.6M992.7,264.1h0.6M969.5,271.9h0.6M971.7,271.9h0.6M983.5,271.9h0.6M985.7,271.9h0.6M997.5,271.9h0.6M999.7,271.9h0.6M976.5,279.7h0.6M978.7,279.7h0.6M990.5,279.7h0.6M992.7,279.7h0.6" stroke="#555" stroke-width="0.9" fill="none"/>
<path d="M963.8,281.7L1005.3,281.7L1005.0,283.9L1005.1,286.1L1004.8,288.4L1005.4,290.6L1005.4,292.8L1005.7,295.0L1005.4,297.2L1005.7,299.5L1005.3,301.7L1005.3,303.9L1005.1,306.1L1005.3,308.4L1005.7,310.6L1005.3,312.8L963.8,312.8Z" fill="#cecece" stroke="#1a1a1a" stroke-width="1.6" stroke-linejoin="round"/>
<path d="M969.5,286.2h0.6M971.7,286.2h0.6M983.5,286.2h0.6M985.7,286.2h0.6M997.5,286.2h0.6M999.7,286.2h0.6M976.5,294.0h0.6M978.7,294.0h0.6M990.5,294.0h0.6M992.7,294.0h0.6M969.5,301.8h0.6M971.7,301.8h0.6M983.5,301.8h0.6M985.7,301.8h0.6M997.5,301.8h0.6M999.7,301.8h0.6M976.5,309.6h0.6M978.7,309.6h0.6M990.5,309.6h0.6M992.7,309.6h0.6" stroke="#555" stroke-width="0.9" fill="none"/>
<path d="M963.8,312.8L1005.3,312.8L1005.3,315.1L1004.8,317.4L1005.2,319.7L1005.0,322.0L1005.4,324.3L1005.3,326.6L1005.3,329.0L1005.7,331.3L1005.6,333.6L1004.9,335.9L1004.8,338.2L1005.5,340.5L1005.3,342.8L963.8,342.8Z" fill="#cecece" stroke="#1a1a1a" stroke-width="1.6" stroke-linejoin="round"/>
<path d="M969.5,317.3h0.6M971.7,317.3h0.6M983.5,317.3h0.6M985.7,317.3h0.6M997.5,317.3h0.6M999.7,317.3h0.6M976.5,325.1h0.6M978.7,325.1h0.6M990.5,325.1h0.6M992.7,325.1h0.6M969.5,332.9h0.6M971.7,332.9h0.6M983.5,332.9h0.6M985.7,332.9h0.6M997.5,332.9h0.6M999.7,332.9h0.6M976.5,340.7h0.6M978.7,340.7h0.6M990.5,340.7h0.6M992.7,340.7h0.6" stroke="#555" stroke-width="0.9" fill="none"/>
<path d="M963.8,342.8L1005.3,342.8L1005.4,345.1L1005.5,347.4L1005.3,349.6L1004.8,351.9L1005.3,354.2L1005.6,356.5L1005.4,358.8L1004.8,361.0L1004.9,363.3L1005.7,365.6L1005.3,367.9L1005.0,370.2L1005.5,372.5L1005.7,374.7L1005.7,377.0L1005.4,379.3L1005.6,381.6L1004.9,383.9L1005.3,386.1L1005.6,388.4L1005.3,390.7L963.8,390.7Z" fill="#cecece" stroke="#1a1a1a" stroke-width="1.6" stroke-linejoin="round"/>
<path d="M969.5,347.3h0.6M971.7,347.3h0.6M983.5,347.3h0.6M985.7,347.3h0.6M997.5,347.3h0.6M999.7,347.3h0.6M976.5,355.1h0.6M978.7,355.1h0.6M990.5,355.1h0.6M992.7,355.1h0.6M969.5,362.9h0.6M971.7,362.9h0.6M983.5,362.9h0.6M985.7,362.9h0.6M997.5,362.9h0.6M999.7,362.9h0.6M976.5,370.7h0.6M978.7,370.7h0.6M990.5,370.7h0.6M992.7,370.7h0.6M969.5,378.5h0.6M971.7,378.5h0.6M983.5,378.5h0.6M985.7,378.5h0.6M997.5,378.5h0.6M999.7,378.5h0.6M976.5,386.3h0.6M978.7,386.3h0.6M990.5,386.3h0.6M992.7,386.3h0.6" stroke="#555" stroke-width="0.9" fill="none"/>
<path d="M977,293.5h11M979,295l7.5,6M979,297.5l6,5M979,300l4.5,4M986.5,295l-6.5,5M986.5,298l-4,3.2" stroke="#666" stroke-width="0.7" fill="none"/>
<path d="M973.0,331.4H996.6M974.6,332.5H994.9M972.0,333.6H996.8" stroke="#777" stroke-width="0.8" fill="none"/>
<path d="M824.5,424.5L884.7,424.5Q887.2,424.5 887.2,427.0L887.2,453.8Q887.2,456.3 884.7,456.3L824.5,456.3Z" fill="#9c9c9c" stroke="#1a1a1a" stroke-width="1.9" stroke-linejoin="round"/>
<g fill="#333"><circle cx="829.5" cy="428.0" r="0.8"/><circle cx="840.2" cy="428.0" r="0.8"/><circle cx="850.9" cy="428.0" r="0.8"/><circle cx="861.6" cy="428.0" r="0.8"/><circle cx="872.3" cy="428.0" r="0.8"/><circle cx="883.0" cy="428.0" r="0.8"/><circle cx="834.9" cy="434.5" r="0.8"/><circle cx="845.6" cy="434.5" r="0.8"/><circle cx="856.3" cy="434.5" r="0.8"/><circle cx="867.0" cy="434.5" r="0.8"/><circle cx="877.7" cy="434.5" r="0.8"/><circle cx="829.5" cy="441.0" r="0.8"/><circle cx="840.2" cy="441.0" r="0.8"/><circle cx="850.9" cy="441.0" r="0.8"/><circle cx="861.6" cy="441.0" r="0.8"/><circle cx="872.3" cy="441.0" r="0.8"/><circle cx="883.0" cy="441.0" r="0.8"/><circle cx="834.9" cy="447.5" r="0.8"/><circle cx="845.6" cy="447.5" r="0.8"/><circle cx="856.3" cy="447.5" r="0.8"/><circle cx="867.0" cy="447.5" r="0.8"/><circle cx="877.7" cy="447.5" r="0.8"/><circle cx="829.5" cy="454.0" r="0.8"/><circle cx="840.2" cy="454.0" r="0.8"/><circle cx="850.9" cy="454.0" r="0.8"/><circle cx="861.6" cy="454.0" r="0.8"/><circle cx="872.3" cy="454.0" r="0.8"/><circle cx="883.0" cy="454.0" r="0.8"/></g>
<path d="M836.0,439.5Q840.0,442.7 844.0,439.5M837.0,440.7Q840.0,442.9 843.0,440.7" stroke="#555" stroke-width="0.7" fill="none"/>
<path d="M855.0,439.5Q859.0,442.7 863.0,439.5M856.0,440.7Q859.0,442.9 862.0,440.7" stroke="#555" stroke-width="0.7" fill="none"/>
<path d="M878.0,439.5Q881.0,442.7 884.0,439.5M879.0,440.7Q881.0,442.9 883.0,440.7" stroke="#555" stroke-width="0.7" fill="none"/>
<path d="M824.5,456.3L870.0,456.3L870.0,458.5L870.3,460.7L870.1,463.0L870.2,465.2L869.8,467.4L870.0,469.6L824.5,469.6Z" fill="#d6d6d6" stroke="#1a1a1a" stroke-width="1.4" stroke-linejoin="round"/>
<path d="M849.9,459.7h0.47M832.2,462.6h0.37M853.2,464.5h0.67M857.9,458.6h0.65M848.5,467.4h0.52M829.4,465.1h0.41M866.8,463.4h0.67M846.4,461.2h0.58M855.5,462.5h0.45M843.4,465.2h0.43M832.6,462.8h0.58M828.8,460.6h0.69M837.1,465.8h0.46M829.6,462.8h0.65M858.3,458.3h0.60M851.8,462.8h0.58" stroke="#999" stroke-width="1" stroke-linecap="round" fill="none"/>
<path d="M824.5,469.6L897.1,469.6L897.1,472.0L896.7,474.3L897.3,476.7L896.7,479.0L896.9,481.4L897.5,483.7L897.2,486.1L897.1,488.4L897.4,490.8L897.1,493.1L897.0,495.5L897.2,497.8L897.1,500.2L824.5,500.2Z" fill="#9a9a9a" stroke="#1a1a1a" stroke-width="1.9" stroke-linejoin="round"/>
<g fill="#333"><circle cx="829.5" cy="473.1" r="0.8"/><circle cx="842.5" cy="473.1" r="0.8"/><circle cx="855.5" cy="473.1" r="0.8"/><circle cx="868.5" cy="473.1" r="0.8"/><circle cx="881.5" cy="473.1" r="0.8"/><circle cx="836.0" cy="479.6" r="0.8"/><circle cx="849.0" cy="479.6" r="0.8"/><circle cx="862.0" cy="479.6" r="0.8"/><circle cx="875.0" cy="479.6" r="0.8"/><circle cx="888.0" cy="479.6" r="0.8"/><circle cx="829.5" cy="486.1" r="0.8"/><circle cx="842.5" cy="486.1" r="0.8"/><circle cx="855.5" cy="486.1" r="0.8"/><circle cx="868.5" cy="486.1" r="0.8"/><circle cx="881.5" cy="486.1" r="0.8"/><circle cx="836.0" cy="492.6" r="0.8"/><circle cx="849.0" cy="492.6" r="0.8"/><circle cx="862.0" cy="492.6" r="0.8"/><circle cx="875.0" cy="492.6" r="0.8"/><circle cx="888.0" cy="492.6" r="0.8"/></g>
<path d="M829,485.8H889M829,488.5H889M829,491.2H889M832.8,491.2L839.5,485.8M835.8,491.2L842.5,485.8M847.8,491.2L854.5,485.8M850.8,491.2L857.5,485.8M862.8,491.2L869.5,485.8M865.8,491.2L872.5,485.8M877.8,491.2L884.5,485.8M880.8,491.2L887.5,485.8" stroke="#555" stroke-width="0.7" fill="none"/>
<path d="M824.5,500.2L900.4,500.2Q901.9,500.2 901.9,501.7L901.9,531.5Q901.9,533 900.4,533L824.5,533Z" fill="#9a9a9a" stroke="#1a1a1a" stroke-width="1.9" stroke-linejoin="round"/>
<g fill="#333"><circle cx="829.5" cy="503.7" r="0.8"/><circle cx="841.0" cy="503.7" r="0.8"/><circle cx="852.5" cy="503.7" r="0.8"/><circle cx="864.0" cy="503.7" r="0.8"/><circle cx="875.5" cy="503.7" r="0.8"/><circle cx="887.0" cy="503.7" r="0.8"/><circle cx="898.5" cy="503.7" r="0.8"/><circle cx="835.2" cy="510.2" r="0.8"/><circle cx="846.8" cy="510.2" r="0.8"/><circle cx="858.2" cy="510.2" r="0.8"/><circle cx="869.8" cy="510.2" r="0.8"/><circle cx="881.2" cy="510.2" r="0.8"/><circle cx="892.8" cy="510.2" r="0.8"/><circle cx="829.5" cy="516.7" r="0.8"/><circle cx="841.0" cy="516.7" r="0.8"/><circle cx="852.5" cy="516.7" r="0.8"/><circle cx="864.0" cy="516.7" r="0.8"/><circle cx="875.5" cy="516.7" r="0.8"/><circle cx="887.0" cy="516.7" r="0.8"/><circle cx="898.5" cy="516.7" r="0.8"/><circle cx="835.2" cy="523.2" r="0.8"/><circle cx="846.8" cy="523.2" r="0.8"/><circle cx="858.2" cy="523.2" r="0.8"/><circle cx="869.8" cy="523.2" r="0.8"/><circle cx="881.2" cy="523.2" r="0.8"/><circle cx="892.8" cy="523.2" r="0.8"/><circle cx="829.5" cy="529.7" r="0.8"/><circle cx="841.0" cy="529.7" r="0.8"/><circle cx="852.5" cy="529.7" r="0.8"/><circle cx="864.0" cy="529.7" r="0.8"/><circle cx="875.5" cy="529.7" r="0.8"/><circle cx="887.0" cy="529.7" r="0.8"/><circle cx="898.5" cy="529.7" r="0.8"/></g>
<path d="M838.5,517.0Q843.0,520.2 847.5,517.0M839.5,518.2Q843.0,520.4 846.5,518.2" stroke="#555" stroke-width="0.7" fill="none"/>
<path d="M859.0,517.0Q863.5,520.2 868.0,517.0M860.0,518.2Q863.5,520.4 867.0,518.2" stroke="#555" stroke-width="0.7" fill="none"/>
<path d="M883.5,517.0Q887.0,520.2 890.5,517.0M884.5,518.2Q887.0,520.4 889.5,518.2" stroke="#555" stroke-width="0.7" fill="none"/>
<path d="M824.5,533L913.4,533Q917.4,533 917.4,537L917.4,547.8Q917.4,551.8 913.4,551.8L824.5,551.8Z" fill="#c2c2c2" stroke="#1a1a1a" stroke-width="1.9" stroke-linejoin="round"/>
<g fill="#333"><circle cx="835.5" cy="538.5" r="0.8"/><circle cx="849.2" cy="538.5" r="0.8"/><circle cx="862.9" cy="538.5" r="0.8"/><circle cx="876.6" cy="538.5" r="0.8"/><circle cx="890.3" cy="538.5" r="0.8"/><circle cx="904.0" cy="538.5" r="0.8"/><circle cx="842.4" cy="546.5" r="0.8"/><circle cx="856.1" cy="546.5" r="0.8"/><circle cx="869.8" cy="546.5" r="0.8"/><circle cx="883.5" cy="546.5" r="0.8"/><circle cx="897.2" cy="546.5" r="0.8"/><circle cx="910.9" cy="546.5" r="0.8"/></g>
<path d="M964.6,425.5H982.5Q985.5,425.5 985.5,428.5V548.8Q985.5,551.8 981.5,551.8H964.6Z" fill="#525252" stroke="#1a1a1a" stroke-width="1.5"/>
<path d="M972,436h7M970,446h5M974,485.5h6M971,508h6M974,531h6M971,541h5" stroke="#3a3a3a" stroke-width="0.7"/>
<path d="M964.6,457.8H1005Q1008,457.8 1008,460.8V472Q1008,480.4 998,480.4H964.6Z" fill="#9c9c9c" stroke="#1a1a1a" stroke-width="1.5"/>
<g fill="#555"><circle cx="969.6" cy="461.3" r="0.45"/><circle cx="981.6" cy="461.3" r="0.45"/><circle cx="993.6" cy="461.3" r="0.45"/><circle cx="975.6" cy="468.8" r="0.45"/><circle cx="987.6" cy="468.8" r="0.45"/><circle cx="999.6" cy="468.8" r="0.45"/><circle cx="969.6" cy="476.3" r="0.45"/><circle cx="981.6" cy="476.3" r="0.45"/><circle cx="993.6" cy="476.3" r="0.45"/></g>
<path d="M970.5,465.5Q974.5,468.7 978.5,465.5M971.5,466.7Q974.5,468.9 977.5,466.7" stroke="#555" stroke-width="0.7" fill="none"/>
<path d="M990.0,465.0Q995.0,468.2 1000.0,465.0M991.0,466.2Q995.0,468.4 999.0,466.2" stroke="#555" stroke-width="0.7" fill="none"/>
<path d="M964.6,493.7H1008Q1010.6,493.7 1010.6,496.5Q1010.6,502.3 1004,502.3H964.6Z" fill="#a0a0a0" stroke="#1a1a1a" stroke-width="1.5"/>
<path d="M972.1,496.7H1002.9M972.1,498.0H1001.0M974.7,499.3H1002.0" stroke="#6a6a6a" stroke-width="0.7" fill="none"/>
<path d="M964.6,515.2H1010Q1012.8,515.2 1012.8,518Q1012.8,525.1 1005,525.1H964.6Z" fill="#a0a0a0" stroke="#1a1a1a" stroke-width="1.5"/>
<path d="M972.5,518.0H1002.4M972.8,519.4H1002.6M974.0,520.6H1003.2M974.2,522.0H1004.2" stroke="#6a6a6a" stroke-width="0.7" fill="none"/>
<rect x="55.2" y="588.5" width="41.9" height="27.1" fill="none" stroke="#424242" stroke-width="1.7" />
<rect x="220.3" y="587.5" width="41.3" height="27.1" fill="none" stroke="#424242" stroke-width="1.7" />
<rect x="370.2" y="587.7" width="41.2" height="27.4" fill="none" stroke="#424242" stroke-width="1.6" />
<rect x="540.3" y="587.0" width="41.4" height="27.5" fill="none" stroke="#555" stroke-width="1.2" />
<rect x="714.4" y="588.8" width="41.8" height="27.0" fill="none" stroke="#5a5a5a" stroke-width="1.3" />
<rect x="836.2" y="587.6" width="41.1" height="27.4" fill="none" stroke="#444" stroke-width="1.2" />
<rect x="924.0" y="587.0" width="40.8" height="26.8" fill="none" stroke="#1a1a1a" stroke-width="1.7" />
<path d="M924.0,600.4L964.8,600.4" stroke="#1a1a1a" stroke-width="1.6" fill="none"/>
<rect x="1020.8" y="587.7" width="40.9" height="27.1" fill="none" stroke="#2a2a2a" stroke-width="1.5" />
<path d="M1020.8,601.0L1061.7,601.0" stroke="#2a2a2a" stroke-width="1.4" fill="none"/>
<rect x="1110.0" y="586.4" width="40.5" height="26.6" fill="none" stroke="#2a2a2a" stroke-width="1.5" />
<text x="2.7" y="637.0" font-size="19" letter-spacing="0.01" fill="#2a2a2a" stroke="#2a2a2a" stroke-width="0.2" >Trough  cross-bedding</text>
<text x="188.5" y="636.0" font-size="19" letter-spacing="0.09" fill="#2a2a2a" stroke="#2a2a2a" stroke-width="0.2" >Ripple bedding</text>
<text x="325.4" y="637.0" font-size="19" letter-spacing="0.07" fill="#2a2a2a" stroke="#2a2a2a" stroke-width="0.2" >Plate cross-bedding</text>
<text x="487.8" y="637.6" font-size="19" letter-spacing="0.07" fill="#2a2a2a" stroke="#2a2a2a" stroke-width="0.2" >Low angle cross-bedded</text>
<text x="687.0" y="637.0" font-size="19" letter-spacing="-0.03" fill="#2a2a2a" stroke="#2a2a2a" stroke-width="0.2" >Parallel bedding</text>
<text x="829.2" y="636.0" font-size="19" letter-spacing="-0.18" fill="#2a2a2a" stroke="#2a2a2a" stroke-width="0.2" >Gravel</text>
<text x="901.0" y="634.2" font-size="17.4" letter-spacing="1.68" fill="#2a2a2a" stroke="#2a2a2a" stroke-width="0.2" >Sandstone</text>
<text x="1005.0" y="634.2" font-size="17.4" letter-spacing="1.51" fill="#2a2a2a" stroke="#2a2a2a" stroke-width="0.2" >Siltstone</text>
<text x="1088.0" y="634.2" font-size="17.4" letter-spacing="1.77" fill="#2a2a2a" stroke="#2a2a2a" stroke-width="0.2" >Mudstone</text>
<circle cx="931" cy="593.5" r="1.45" fill="#111"/>
<circle cx="944.5" cy="593.5" r="1.45" fill="#111"/>
<circle cx="958" cy="593.5" r="1.45" fill="#111"/>
<circle cx="937.5" cy="607" r="1.45" fill="#111"/>
<circle cx="951.5" cy="607" r="1.45" fill="#111"/>
<circle cx="1026.2" cy="594" r="0.75" fill="#222"/><circle cx="1028.8" cy="594" r="0.75" fill="#222"/>
<circle cx="1040.2" cy="594" r="0.75" fill="#222"/><circle cx="1042.8" cy="594" r="0.75" fill="#222"/>
<circle cx="1053.7" cy="594" r="0.75" fill="#222"/><circle cx="1056.3" cy="594" r="0.75" fill="#222"/>
<circle cx="1030.7" cy="607.5" r="0.75" fill="#222"/><circle cx="1033.3" cy="607.5" r="0.75" fill="#222"/>
<circle cx="1046.7" cy="607.5" r="0.75" fill="#222"/><circle cx="1049.3" cy="607.5" r="0.75" fill="#222"/>
<path d="M1115.0,594.0L1128.0,594.0" stroke="#222" stroke-width="1.5" fill="none"/>
<path d="M1130.0,601.0L1144.0,601.0" stroke="#222" stroke-width="1.5" fill="none"/>
<path d="M1115.0,607.5L1128.5,607.5" stroke="#222" stroke-width="1.5" fill="none"/>
<g transform="translate(0,3.3)"><path d="M66,599.5Q72,606 79,600M78,598Q84,604.5 91,598.5M64,603Q71,610 78.5,604.5M78.5,604Q84,609 91.5,602.5M67.5,596.5Q71,600 75,598M80,596Q85,600.5 90,597" stroke="#555" stroke-width="0.9" fill="none"/></g>
<path d="M227,599.5Q232,603.5 237,599.5M228.5,598.7Q232,602.0 235.5,598.7M230,598.0l1.5,2M234,598.0l-1.5,2M238,599Q243,603 248,599M239.5,598.2Q243,601.5 246.5,598.2M241,597.5l1.5,2M245,597.5l-1.5,2M233,604Q238,608 243,604M234.5,603.2Q238,606.5 241.5,603.2M236,602.5l1.5,2M240,602.5l-1.5,2M245,603.5Q250,607.5 255,603.5M246.5,602.7Q250,606.0 253.5,602.7M248,602.0l1.5,2M252,602.0l-1.5,2M223,603.5Q228,607.5 233,603.5M224.5,602.7Q228,606.0 231.5,602.7M226,602.0l1.5,2M230,602.0l-1.5,2" stroke="#666" stroke-width="0.6" fill="none"/>
<path d="M373,600.2H409M373,602.7H409M373,605.2H409" stroke="#555" stroke-width="0.7" fill="none"/>
<path d="M378,600.5l5,2.2l-5,2.2M385,600.5l5,2.2l-5,2.2M392,600.5l5,2.2l-5,2.2M399,600.5l5,2.2l-5,2.2" stroke="#666" stroke-width="0.6" fill="none"/>
<path d="M552,595.2H569M553.5,597H567M552,597.8L567,609.2M553,601.2L564.5,610M554,604.6L561,610.4M569,595.6L557.5,604M569,599.5L560.5,606M569,603L563.5,607.4" stroke="#777" stroke-width="0.7" fill="none"/>
<path d="M718,600.8Q736,603 754,601.6M718,603.8Q736,605.6 754,604.4M718,606.6Q736,608.6 754,607.4" stroke="#999" stroke-width="0.8" fill="none"/>
<g fill="none" stroke="#444" stroke-width="0.6"><ellipse cx="847.9" cy="601.9" rx="1.3" ry="1.0"/><ellipse cx="860.6" cy="592.3" rx="0.6" ry="0.6"/><ellipse cx="848.6" cy="595.7" rx="2.4" ry="1.8"/><ellipse cx="867.6" cy="600.5" rx="1.8" ry="1.1"/><ellipse cx="861.0" cy="608.4" rx="1.5" ry="1.3"/><ellipse cx="862.2" cy="592.3" rx="2.0" ry="1.6"/><ellipse cx="849.9" cy="591.6" rx="2.2" ry="1.7"/><ellipse cx="863.7" cy="608.6" rx="1.9" ry="1.7"/><ellipse cx="853.0" cy="607.0" rx="1.4" ry="1.3"/><ellipse cx="869.0" cy="592.9" rx="0.8" ry="0.6"/><ellipse cx="871.9" cy="599.7" rx="1.7" ry="1.2"/><ellipse cx="856.7" cy="598.7" rx="1.2" ry="1.0"/><ellipse cx="859.3" cy="609.1" rx="1.8" ry="1.7"/><ellipse cx="868.3" cy="610.8" rx="1.8" ry="1.2"/><ellipse cx="868.4" cy="610.3" rx="2.2" ry="1.8"/><ellipse cx="863.6" cy="595.2" rx="2.1" ry="1.7"/><ellipse cx="849.4" cy="592.3" rx="2.1" ry="2.0"/><ellipse cx="842.9" cy="607.0" rx="1.3" ry="0.9"/><ellipse cx="849.7" cy="606.4" rx="2.2" ry="1.3"/><ellipse cx="860.3" cy="591.9" rx="1.9" ry="1.4"/><ellipse cx="869.1" cy="610.6" rx="1.5" ry="1.4"/><ellipse cx="850.2" cy="592.5" rx="1.7" ry="1.0"/><ellipse cx="846.5" cy="599.2" rx="1.7" ry="1.1"/><ellipse cx="841.4" cy="608.4" rx="1.2" ry="1.1"/><ellipse cx="869.6" cy="598.6" rx="1.4" ry="1.1"/><ellipse cx="861.2" cy="602.9" rx="1.6" ry="1.3"/></g>
<rect x="838" y="589.8" width="37.3" height="22.8" fill="none" stroke="#555" stroke-width="0.6" stroke-dasharray="1 1.5"/>
</svg></body></html>
